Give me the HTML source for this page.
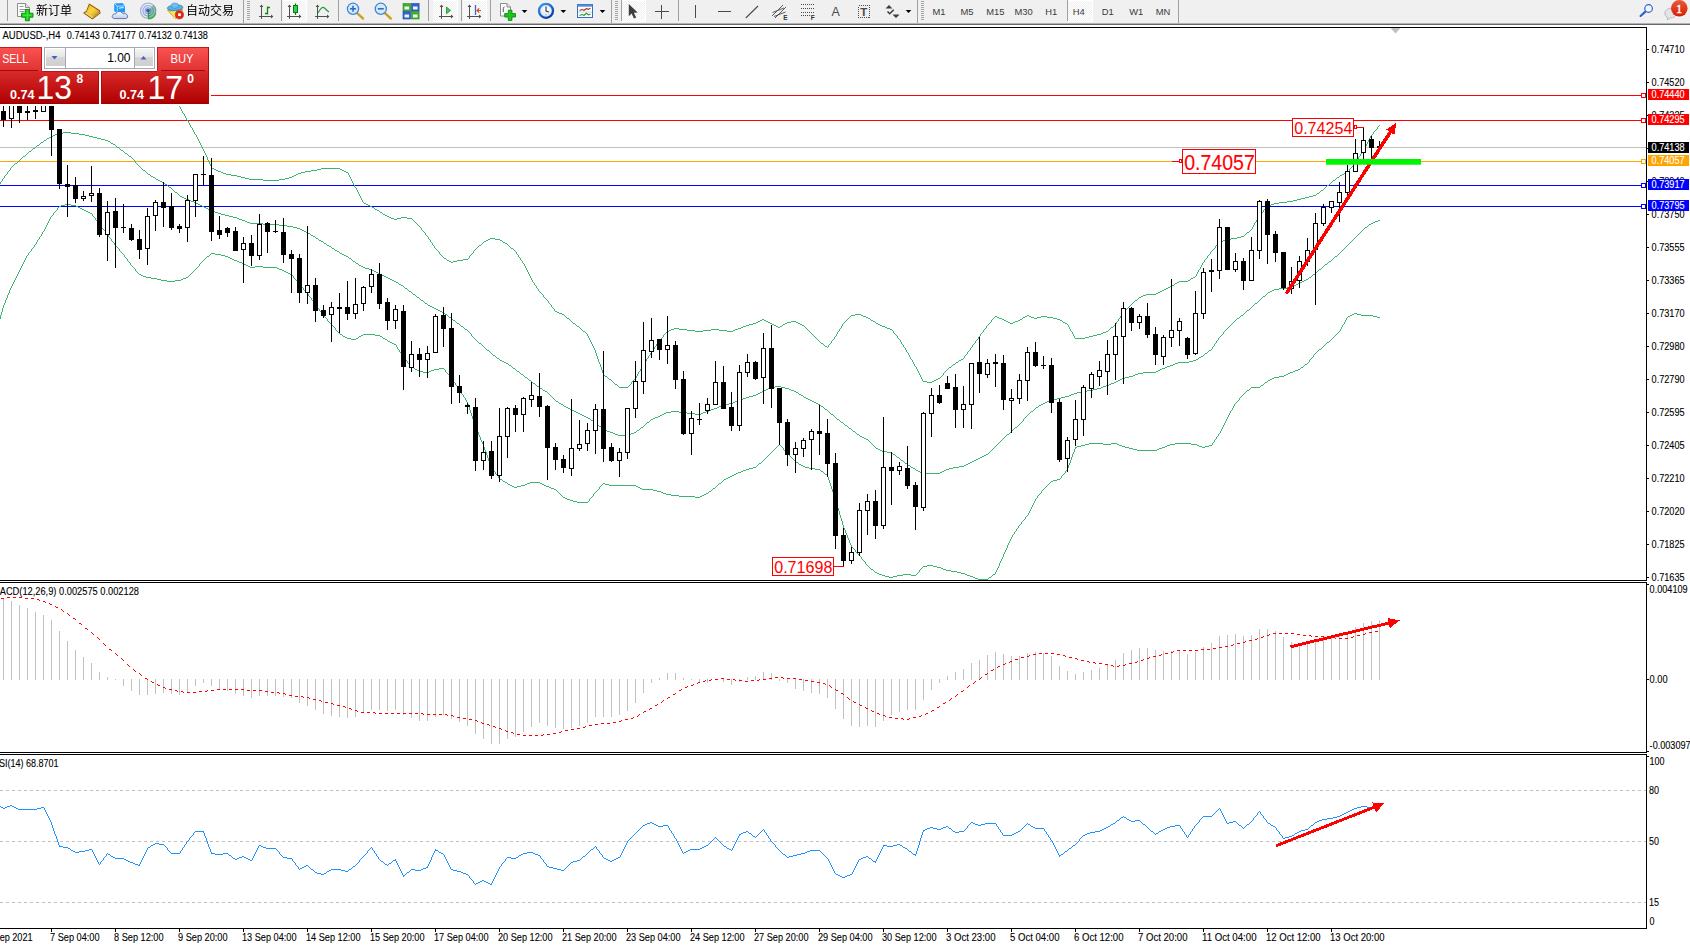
<!DOCTYPE html>
<html><head><meta charset="utf-8"><title>AUDUSD H4</title><style>html,body{margin:0;padding:0;background:#fff;overflow:hidden}body{width:1690px;height:948px;position:relative;font-family:"Liberation Sans",sans-serif}svg text{font-family:"Liberation Sans",sans-serif}</style></head><body>
<svg width="1690" height="948" viewBox="0 0 1690 948" font-family='"Liberation Sans", sans-serif' style="position:absolute;left:0;top:0">
<defs><linearGradient id="gSell" x1="0" y1="0" x2="0" y2="1"><stop offset="0" stop-color="#fb5353"/><stop offset="1" stop-color="#e03232"/></linearGradient><linearGradient id="gPrice" x1="0" y1="0" x2="0" y2="1"><stop offset="0" stop-color="#d92a2a"/><stop offset="1" stop-color="#ae0000"/></linearGradient><linearGradient id="gSpin" x1="0" y1="0" x2="0" y2="1"><stop offset="0" stop-color="#f4f4f4"/><stop offset="0.45" stop-color="#e6e6e6"/><stop offset="0.5" stop-color="#d6d6d6"/><stop offset="1" stop-color="#cfcfcf"/></linearGradient><linearGradient id="gBadge" x1="0" y1="0" x2="0" y2="1"><stop offset="0" stop-color="#ea5a3a"/><stop offset="1" stop-color="#d81c00"/></linearGradient><radialGradient id="gClock" cx="0.5" cy="0.4" r="0.6"><stop offset="0" stop-color="#ffffff"/><stop offset="1" stop-color="#cfe0f5"/></radialGradient><linearGradient id="gBook" x1="0" y1="0" x2="1" y2="1"><stop offset="0" stop-color="#e8b414"/><stop offset="0.45" stop-color="#f7d640"/><stop offset="1" stop-color="#d69a10"/></linearGradient><linearGradient id="gCloud" x1="0" y1="0" x2="0" y2="1"><stop offset="0" stop-color="#ffffff"/><stop offset="1" stop-color="#bfcde6"/></linearGradient><linearGradient id="gFunnel" x1="0" y1="0" x2="1" y2="0"><stop offset="0" stop-color="#f5c91e"/><stop offset="0.55" stop-color="#fff27a"/><stop offset="1" stop-color="#e8b010"/></linearGradient><linearGradient id="gRing" x1="0" y1="0" x2="0.6" y2="1"><stop offset="0" stop-color="#3c9af2"/><stop offset="1" stop-color="#0a3fa0"/></linearGradient><pattern id="chk" width="2" height="2" patternUnits="userSpaceOnUse"><rect width="2" height="2" fill="#f0f0f0"/><rect width="1" height="1" fill="#fff"/><rect x="1" y="1" width="1" height="1" fill="#fff"/></pattern></defs>
<rect x="0" y="0" width="1690" height="948" fill="#fff"/>
<g shape-rendering="crispEdges">
<rect x="0" y="95" width="1646" height="1" fill="#ff0000"/>
<rect x="0" y="120" width="1646" height="1" fill="#ff0000"/>
<rect x="0" y="147" width="1646" height="1" fill="#c0c0c0"/>
<rect x="0" y="161" width="1646" height="1" fill="#ffa500"/>
<rect x="0" y="185" width="1646" height="1" fill="#0000ff"/>
<rect x="0" y="206" width="1646" height="1" fill="#0000ff"/>
</g>
<path d="M171 92h1v1h-1zM172 93h1v2h-1zM173 95h1v2h-1zM174 97h1v2h-1zM175 99h1v1h-1zM176 100h1v2h-1zM177 102h1v2h-1zM178 104h1v2h-1zM179 106h1v1h-1zM180 107h1v2h-1zM181 109h1v2h-1zM182 111h1v2h-1zM183 113h1v1h-1zM184 114h1v2h-1zM185 116h1v2h-1zM186 118h1v2h-1zM187 120h1v1h-1zM188 121h1v2h-1zM189 123h1v2h-1zM190 125h1v2h-1zM191 127h1v1h-1zM192 128h1v2h-1zM193 130h1v2h-1zM194 132h1v2h-1zM195 134h1v1h-1zM196 135h1v2h-1zM197 137h1v2h-1zM198 139h1v2h-1zM199 141h1v2h-1zM200 143h1v2h-1zM201 145h1v2h-1zM202 147h1v2h-1zM203 149h1v2h-1zM204 151h1v2h-1zM205 153h1v2h-1zM206 155h1v2h-1zM207 157h1v3h-1zM208 160h1v2h-1zM209 162h1v2h-1zM210 164h1v2h-1zM211 166h1v2h-1zM212 168h2v1h-2zM214 169h2v1h-2zM216 170h2v1h-2zM218 171h3v1h-3zM221 172h2v1h-2zM223 173h3v1h-3zM226 174h5v1h-5zM231 175h6v1h-6zM237 176h4v1h-4zM241 177h4v1h-4zM245 178h4v1h-4zM249 179h14v1h-14zM263 180h16v1h-16zM279 179h6v1h-6zM285 178h4v1h-4zM289 177h3v1h-3zM292 176h2v1h-2zM294 175h2v1h-2zM296 174h2v1h-2zM298 173h3v1h-3zM301 172h4v1h-4zM305 171h6v1h-6zM311 170h6v1h-6zM317 169h4v1h-4zM321 168h19v1h-19zM340 169h2v1h-2zM342 170h2v1h-2zM344 171h2v1h-2zM346 172h2v1h-2zM348 173h1v2h-1zM349 175h1v2h-1zM350 177h1v2h-1zM351 179h1v2h-1zM352 181h1v2h-1zM353 183h1v2h-1zM354 185h1v2h-1zM355 187h1v1h-1zM356 188h1v2h-1zM357 190h1v2h-1zM358 192h1v2h-1zM359 194h1v2h-1zM360 196h1v2h-1zM361 198h1v2h-1zM362 200h1v2h-1zM363 202h1v1h-1zM364 203h2v1h-2zM366 204h2v1h-2zM368 205h2v1h-2zM370 206h2v1h-2zM372 207h2v1h-2zM374 208h1v1h-1zM375 209h2v1h-2zM377 210h2v1h-2zM379 211h1v1h-1zM380 212h2v1h-2zM382 213h1v1h-1zM383 214h2v1h-2zM385 215h2v1h-2zM387 216h2v1h-2zM389 217h2v1h-2zM391 218h3v1h-3zM394 219h3v1h-3zM397 218h4v1h-4zM401 217h6v1h-6zM407 218h5v1h-5zM412 219h1v1h-1zM413 220h1v1h-1zM414 221h1v1h-1zM415 222h1v1h-1zM416 223h1v1h-1zM417 224h1v1h-1zM418 225h1v1h-1zM419 226h1v1h-1zM420 227h1v1h-1zM421 228h1v2h-1zM422 230h1v1h-1zM423 231h1v1h-1zM424 232h1v1h-1zM425 233h1v2h-1zM426 235h1v1h-1zM427 236h1v1h-1zM428 237h1v2h-1zM429 239h1v1h-1zM430 240h1v2h-1zM431 242h1v1h-1zM432 243h1v2h-1zM433 245h1v1h-1zM434 246h1v2h-1zM435 248h1v1h-1zM436 249h1v1h-1zM437 250h1v1h-1zM438 251h1v1h-1zM439 252h1v2h-1zM440 254h1v1h-1zM441 255h1v1h-1zM442 256h1v1h-1zM443 257h1v1h-1zM444 258h2v1h-2zM446 259h1v1h-1zM447 260h2v1h-2zM449 261h2v1h-2zM451 262h2v1h-2zM453 261h4v1h-4zM457 260h6v1h-6zM463 259h5v1h-5zM468 258h1v1h-1zM469 256h1v2h-1zM470 255h1v1h-1zM471 254h1v1h-1zM472 253h1v1h-1zM473 251h1v2h-1zM474 250h1v1h-1zM475 249h1v1h-1zM476 248h1v1h-1zM477 247h1v1h-1zM478 246h1v1h-1zM479 245h2v1h-2zM481 244h1v1h-1zM482 243h1v1h-1zM483 242h1v1h-1zM484 241h2v1h-2zM486 240h2v1h-2zM488 239h2v1h-2zM490 238h5v1h-5zM495 239h5v1h-5zM500 240h2v1h-2zM502 241h1v1h-1zM503 242h2v1h-2zM505 243h2v1h-2zM507 244h1v1h-1zM508 245h1v1h-1zM509 246h1v1h-1zM510 247h1v1h-1zM511 248h2v1h-2zM513 249h1v1h-1zM514 250h1v1h-1zM515 251h1v1h-1zM516 252h1v2h-1zM517 254h1v1h-1zM518 255h1v2h-1zM519 257h1v1h-1zM520 258h1v2h-1zM521 260h1v1h-1zM522 261h1v2h-1zM523 263h1v1h-1zM524 264h1v2h-1zM525 266h1v2h-1zM526 268h1v2h-1zM527 270h1v2h-1zM528 272h1v2h-1zM529 274h1v2h-1zM530 276h1v2h-1zM531 278h1v2h-1zM532 280h1v2h-1zM533 282h1v1h-1zM534 283h1v2h-1zM535 285h1v1h-1zM536 286h1v2h-1zM537 288h1v1h-1zM538 289h1v2h-1zM539 291h1v1h-1zM540 292h1v1h-1zM541 293h1v1h-1zM542 294h1v1h-1zM543 295h1v2h-1zM544 297h1v1h-1zM545 298h1v1h-1zM546 299h1v1h-1zM547 300h1v1h-1zM548 301h1v2h-1zM549 303h1v1h-1zM550 304h1v1h-1zM551 305h1v2h-1zM552 307h1v1h-1zM553 308h1v1h-1zM554 309h1v2h-1zM555 311h2v1h-2zM557 312h2v1h-2zM559 313h3v1h-3zM562 314h2v1h-2zM564 315h1v1h-1zM565 316h1v1h-1zM566 317h1v1h-1zM567 318h2v1h-2zM569 319h1v1h-1zM570 320h1v1h-1zM571 321h1v1h-1zM572 322h1v1h-1zM573 323h2v1h-2zM575 324h1v1h-1zM576 325h1v1h-1zM577 326h2v1h-2zM579 327h1v1h-1zM580 328h1v1h-1zM581 329h1v1h-1zM582 330h1v1h-1zM583 331h2v1h-2zM585 332h1v1h-1zM586 333h1v1h-1zM587 334h1v2h-1zM588 336h1v2h-1zM589 338h1v2h-1zM590 340h1v2h-1zM591 342h1v2h-1zM592 344h1v2h-1zM593 346h1v2h-1zM594 348h1v2h-1zM595 350h1v3h-1zM596 353h1v3h-1zM597 356h1v3h-1zM598 359h1v3h-1zM599 362h1v2h-1zM600 364h1v3h-1zM601 367h1v3h-1zM602 370h1v3h-1zM603 373h1v2h-1zM604 375h1v1h-1zM605 376h2v1h-2zM607 377h1v1h-1zM608 378h1v1h-1zM609 379h2v1h-2zM611 380h1v1h-1zM612 381h1v1h-1zM613 382h1v1h-1zM614 383h1v1h-1zM615 384h2v1h-2zM617 385h1v1h-1zM618 386h1v1h-1zM619 387h9v1h-9zM628 386h1v1h-1zM629 385h1v1h-1zM630 384h1v1h-1zM631 382h1v2h-1zM632 381h1v1h-1zM633 380h1v1h-1zM634 379h1v1h-1zM635 378h1v1h-1zM636 376h1v2h-1zM637 374h1v2h-1zM638 372h1v2h-1zM639 371h1v1h-1zM640 369h1v2h-1zM641 367h1v2h-1zM642 365h1v2h-1zM643 364h1v1h-1zM644 362h1v2h-1zM645 361h1v1h-1zM646 359h1v2h-1zM647 358h1v1h-1zM648 356h1v2h-1zM649 355h1v1h-1zM650 353h1v2h-1zM651 352h1v1h-1zM652 350h1v2h-1zM653 349h1v1h-1zM654 347h1v2h-1zM655 346h1v1h-1zM656 344h1v2h-1zM657 343h1v1h-1zM658 341h1v2h-1zM659 340h1v1h-1zM660 339h1v1h-1zM661 338h1v1h-1zM662 337h1v1h-1zM663 335h1v2h-1zM664 334h1v1h-1zM665 333h1v1h-1zM666 332h1v1h-1zM667 331h2v1h-2zM669 330h2v1h-2zM671 329h3v1h-3zM674 328h5v1h-5zM679 329h8v1h-8zM687 330h8v1h-8zM695 331h8v1h-8zM703 330h8v1h-8zM711 329h8v1h-8zM719 330h8v1h-8zM727 331h6v1h-6zM733 330h2v1h-2zM735 329h3v1h-3zM738 328h3v1h-3zM741 327h2v1h-2zM743 326h3v1h-3zM746 325h3v1h-3zM749 324h4v1h-4zM753 323h3v1h-3zM756 322h2v1h-2zM758 321h2v1h-2zM760 320h2v1h-2zM762 319h2v1h-2zM764 320h2v1h-2zM766 321h2v1h-2zM768 322h2v1h-2zM770 323h2v1h-2zM772 324h2v1h-2zM774 325h2v1h-2zM776 326h2v1h-2zM778 327h2v1h-2zM780 326h2v1h-2zM782 325h1v1h-1zM783 324h2v1h-2zM785 323h2v1h-2zM787 322h4v1h-4zM791 321h5v1h-5zM796 322h2v1h-2zM798 323h2v1h-2zM800 324h2v1h-2zM802 325h2v1h-2zM804 326h1v1h-1zM805 327h1v1h-1zM806 328h1v1h-1zM807 329h1v1h-1zM808 330h1v1h-1zM809 331h1v1h-1zM810 332h1v1h-1zM811 333h1v1h-1zM812 334h1v1h-1zM813 335h1v1h-1zM814 336h1v1h-1zM815 337h1v1h-1zM816 338h1v1h-1zM817 339h1v1h-1zM818 340h1v1h-1zM819 341h1v1h-1zM820 342h1v1h-1zM821 343h2v1h-2zM823 344h1v1h-1zM824 345h1v1h-1zM825 346h2v1h-2zM827 347h1v1h-1zM828 345h1v2h-1zM829 344h1v1h-1zM830 343h1v1h-1zM831 341h1v2h-1zM832 340h1v1h-1zM833 339h1v1h-1zM834 337h1v2h-1zM835 336h1v1h-1zM836 334h1v2h-1zM837 332h1v2h-1zM838 331h1v1h-1zM839 329h1v2h-1zM840 328h1v1h-1zM841 326h1v2h-1zM842 324h1v2h-1zM843 323h1v1h-1zM844 322h1v1h-1zM845 321h1v1h-1zM846 320h1v1h-1zM847 319h1v1h-1zM848 318h1v1h-1zM849 317h1v1h-1zM850 316h1v1h-1zM851 315h4v1h-4zM855 314h6v1h-6zM861 315h2v1h-2zM863 316h3v1h-3zM866 317h2v1h-2zM868 318h2v1h-2zM870 319h1v1h-1zM871 320h2v1h-2zM873 321h2v1h-2zM875 322h1v1h-1zM876 323h2v1h-2zM878 324h2v1h-2zM880 325h2v1h-2zM882 326h3v1h-3zM885 327h2v1h-2zM887 328h3v1h-3zM890 329h2v1h-2zM892 330h1v1h-1zM893 331h1v2h-1zM894 333h1v1h-1zM895 334h1v1h-1zM896 335h1v1h-1zM897 336h1v2h-1zM898 338h1v1h-1zM899 339h1v1h-1zM900 340h1v2h-1zM901 342h1v2h-1zM902 344h1v1h-1zM903 345h1v2h-1zM904 347h1v1h-1zM905 348h1v2h-1zM906 350h1v2h-1zM907 352h1v1h-1zM908 353h1v2h-1zM909 355h1v2h-1zM910 357h1v2h-1zM911 359h1v1h-1zM912 360h1v2h-1zM913 362h1v2h-1zM914 364h1v2h-1zM915 366h1v1h-1zM916 367h1v2h-1zM917 369h1v2h-1zM918 371h1v2h-1zM919 373h1v2h-1zM920 375h1v2h-1zM921 377h1v2h-1zM922 379h1v2h-1zM923 381h4v1h-4zM927 382h5v1h-5zM932 381h2v1h-2zM934 380h2v1h-2zM936 379h2v1h-2zM938 378h2v1h-2zM940 377h1v1h-1zM941 376h1v1h-1zM942 375h1v1h-1zM943 373h1v2h-1zM944 372h1v1h-1zM945 371h1v1h-1zM946 370h1v1h-1zM947 369h1v1h-1zM948 368h1v1h-1zM949 367h2v1h-2zM951 366h1v1h-1zM952 365h1v1h-1zM953 364h2v1h-2zM955 363h1v1h-1zM956 362h2v1h-2zM958 361h1v1h-1zM959 360h2v1h-2zM961 359h2v1h-2zM963 358h1v1h-1zM964 356h1v2h-1zM965 355h1v1h-1zM966 354h1v1h-1zM967 352h1v2h-1zM968 351h1v1h-1zM969 350h1v1h-1zM970 348h1v2h-1zM971 347h1v1h-1zM972 345h1v2h-1zM973 344h1v1h-1zM974 343h1v1h-1zM975 341h1v2h-1zM976 340h1v1h-1zM977 339h1v1h-1zM978 337h1v2h-1zM979 336h1v1h-1zM980 334h1v2h-1zM981 333h1v1h-1zM982 332h1v1h-1zM983 330h1v2h-1zM984 329h1v1h-1zM985 328h1v1h-1zM986 326h1v2h-1zM987 325h1v1h-1zM988 324h1v1h-1zM989 323h1v1h-1zM990 322h1v1h-1zM991 320h1v2h-1zM992 319h1v1h-1zM993 318h1v1h-1zM994 317h1v1h-1zM995 316h2v1h-2zM997 317h2v1h-2zM999 318h3v1h-3zM1002 319h2v1h-2zM1004 320h2v1h-2zM1006 321h2v1h-2zM1008 322h2v1h-2zM1010 323h3v1h-3zM1013 322h2v1h-2zM1015 321h3v1h-3zM1018 320h2v1h-2zM1020 319h2v1h-2zM1022 318h1v1h-1zM1023 317h2v1h-2zM1025 316h2v1h-2zM1027 315h2v1h-2zM1029 316h2v1h-2zM1031 317h3v1h-3zM1034 318h3v1h-3zM1037 317h4v1h-4zM1041 316h6v1h-6zM1047 317h6v1h-6zM1053 318h4v1h-4zM1057 319h3v1h-3zM1060 320h2v1h-2zM1062 321h1v1h-1zM1063 322h2v1h-2zM1065 323h2v1h-2zM1067 324h1v1h-1zM1068 325h1v2h-1zM1069 327h1v2h-1zM1070 329h1v2h-1zM1071 331h1v1h-1zM1072 332h1v2h-1zM1073 334h1v2h-1zM1074 336h1v2h-1zM1075 338h10v1h-10zM1085 337h4v1h-4zM1089 336h4v1h-4zM1093 335h4v1h-4zM1097 334h4v1h-4zM1101 333h2v1h-2zM1103 332h3v1h-3zM1106 331h2v1h-2zM1108 330h1v1h-1zM1109 329h1v1h-1zM1110 328h1v1h-1zM1111 327h2v1h-2zM1113 326h1v1h-1zM1114 325h1v1h-1zM1115 324h1v1h-1zM1116 322h1v2h-1zM1117 321h1v1h-1zM1118 319h1v2h-1zM1119 318h1v1h-1zM1120 316h1v2h-1zM1121 315h1v1h-1zM1122 313h1v2h-1zM1123 312h1v1h-1zM1124 311h1v1h-1zM1125 310h1v1h-1zM1126 309h1v1h-1zM1127 308h1v1h-1zM1128 307h1v1h-1zM1129 306h1v1h-1zM1130 305h1v1h-1zM1131 304h1v1h-1zM1132 303h1v1h-1zM1133 302h1v1h-1zM1134 301h1v1h-1zM1135 300h2v1h-2zM1137 299h1v1h-1zM1138 298h1v1h-1zM1139 297h2v1h-2zM1141 296h2v1h-2zM1143 295h3v1h-3zM1146 294h10v1h-10zM1156 293h2v1h-2zM1158 292h2v1h-2zM1160 291h2v1h-2zM1162 290h2v1h-2zM1164 289h2v1h-2zM1166 288h2v1h-2zM1168 287h2v1h-2zM1170 286h2v1h-2zM1172 285h2v1h-2zM1174 284h1v1h-1zM1175 283h2v1h-2zM1177 282h2v1h-2zM1179 281h9v1h-9zM1188 280h2v1h-2zM1190 279h1v1h-1zM1191 278h2v1h-2zM1193 277h2v1h-2zM1195 276h1v1h-1zM1196 274h1v2h-1zM1197 272h1v2h-1zM1198 270h1v2h-1zM1199 269h1v1h-1zM1200 267h1v2h-1zM1201 265h1v2h-1zM1202 263h1v2h-1zM1203 262h1v1h-1zM1204 260h1v2h-1zM1205 259h1v1h-1zM1206 258h1v1h-1zM1207 256h1v2h-1zM1208 255h1v1h-1zM1209 254h1v1h-1zM1210 252h1v2h-1zM1211 251h1v1h-1zM1212 250h1v1h-1zM1213 249h1v1h-1zM1214 248h1v1h-1zM1215 246h1v2h-1zM1216 245h1v1h-1zM1217 244h1v1h-1zM1218 243h1v1h-1zM1219 242h2v1h-2zM1221 241h2v1h-2zM1223 240h3v1h-3zM1226 239h5v1h-5zM1231 238h6v1h-6zM1237 237h4v1h-4zM1241 236h3v1h-3zM1244 235h1v1h-1zM1245 234h1v1h-1zM1246 233h1v1h-1zM1247 232h2v1h-2zM1249 231h1v1h-1zM1250 230h1v1h-1zM1251 229h1v1h-1zM1252 227h1v2h-1zM1253 225h1v2h-1zM1254 223h1v2h-1zM1255 222h1v1h-1zM1256 220h1v2h-1zM1257 218h1v2h-1zM1258 216h1v2h-1zM1259 215h1v1h-1zM1260 214h1v1h-1zM1261 213h1v1h-1zM1262 212h1v1h-1zM1263 210h1v2h-1zM1264 209h1v1h-1zM1265 208h1v1h-1zM1266 207h1v1h-1zM1267 206h2v1h-2zM1269 205h2v1h-2zM1271 204h3v1h-3zM1274 203h5v1h-5zM1279 202h8v1h-8zM1287 201h6v1h-6zM1293 200h4v1h-4zM1297 199h4v1h-4zM1301 198h4v1h-4zM1305 197h4v1h-4zM1309 196h4v1h-4zM1313 195h3v1h-3zM1316 194h1v1h-1zM1317 193h2v1h-2zM1319 192h1v1h-1zM1320 191h1v1h-1zM1321 190h2v1h-2zM1323 189h1v1h-1zM1324 188h1v1h-1zM1325 187h1v1h-1zM1326 186h1v1h-1zM1327 185h2v1h-2zM1329 184h1v1h-1zM1330 183h1v1h-1zM1331 182h1v1h-1zM1332 181h1v1h-1zM1333 180h2v1h-2zM1335 179h1v1h-1zM1336 178h1v1h-1zM1337 177h2v1h-2zM1339 176h1v1h-1zM1340 175h2v1h-2zM1342 174h2v1h-2zM1344 173h2v1h-2zM1346 172h2v1h-2zM1348 171h1v1h-1zM1349 169h1v2h-1zM1350 168h1v1h-1zM1351 167h1v1h-1zM1352 166h1v1h-1zM1353 164h1v2h-1zM1354 163h1v1h-1zM1355 162h1v1h-1zM1356 160h1v2h-1zM1357 159h1v1h-1zM1358 157h1v2h-1zM1359 156h1v1h-1zM1360 154h1v2h-1zM1361 153h1v1h-1zM1362 151h1v2h-1zM1363 150h1v1h-1zM1364 148h1v2h-1zM1365 146h1v2h-1zM1366 144h1v2h-1zM1367 142h1v2h-1zM1368 140h1v2h-1zM1369 138h1v2h-1zM1370 136h1v2h-1zM1371 135h1v1h-1zM1372 134h1v1h-1zM1373 132h1v2h-1zM1374 131h1v1h-1zM1375 130h1v1h-1zM1376 129h1v1h-1zM1377 127h1v2h-1zM1378 126h1v1h-1zM1379 125h1v1h-1z" fill="#3cb371" shape-rendering="crispEdges"/>
<path d="M0 182h1v2h-1zM1 181h1v1h-1zM2 179h1v2h-1zM3 178h1v1h-1zM4 176h1v2h-1zM5 175h1v1h-1zM6 174h1v1h-1zM7 172h1v2h-1zM8 171h1v1h-1zM9 170h1v1h-1zM10 168h1v2h-1zM11 167h1v1h-1zM12 166h1v1h-1zM13 165h1v1h-1zM14 164h1v1h-1zM15 163h2v1h-2zM17 162h1v1h-1zM18 161h1v1h-1zM19 160h1v1h-1zM20 159h1v1h-1zM21 158h1v1h-1zM22 157h1v1h-1zM23 156h2v1h-2zM25 155h1v1h-1zM26 154h1v1h-1zM27 153h1v1h-1zM28 152h1v1h-1zM29 151h2v1h-2zM31 150h1v1h-1zM32 149h1v1h-1zM33 148h2v1h-2zM35 147h1v1h-1zM36 146h1v1h-1zM37 145h2v1h-2zM39 144h1v1h-1zM40 143h1v1h-1zM41 142h2v1h-2zM43 141h1v1h-1zM44 140h2v1h-2zM46 139h1v1h-1zM47 138h2v1h-2zM49 137h2v1h-2zM51 136h2v1h-2zM53 135h2v1h-2zM55 134h3v1h-3zM58 133h5v1h-5zM63 132h8v1h-8zM71 133h8v1h-8zM79 134h6v1h-6zM85 135h4v1h-4zM89 136h4v1h-4zM93 137h4v1h-4zM97 138h4v1h-4zM101 139h4v1h-4zM105 140h3v1h-3zM108 141h2v1h-2zM110 142h1v1h-1zM111 143h2v1h-2zM113 144h2v1h-2zM115 145h1v1h-1zM116 146h1v1h-1zM117 147h2v1h-2zM119 148h1v1h-1zM120 149h1v1h-1zM121 150h2v1h-2zM123 151h1v1h-1zM124 152h1v1h-1zM125 153h2v1h-2zM127 154h1v1h-1zM128 155h1v1h-1zM129 156h2v1h-2zM131 157h1v1h-1zM132 158h1v1h-1zM133 159h1v1h-1zM134 160h1v1h-1zM135 161h1v2h-1zM136 163h1v1h-1zM137 164h1v1h-1zM138 165h1v1h-1zM139 166h1v1h-1zM140 167h1v1h-1zM141 168h1v1h-1zM142 169h1v1h-1zM143 170h2v1h-2zM145 171h1v1h-1zM146 172h1v1h-1zM147 173h1v1h-1zM148 174h2v1h-2zM150 175h1v1h-1zM151 176h2v1h-2zM153 177h2v1h-2zM155 178h1v1h-1zM156 179h2v1h-2zM158 180h2v1h-2zM160 181h2v1h-2zM162 182h2v1h-2zM164 183h1v1h-1zM165 184h2v1h-2zM167 185h1v1h-1zM168 186h1v1h-1zM169 187h2v1h-2zM171 188h1v1h-1zM172 189h1v1h-1zM173 190h1v1h-1zM174 191h1v1h-1zM175 192h2v1h-2zM177 193h1v1h-1zM178 194h1v1h-1zM179 195h1v1h-1zM180 196h2v1h-2zM182 197h2v1h-2zM184 198h2v1h-2zM186 199h3v1h-3zM189 200h2v1h-2zM191 201h3v1h-3zM194 202h2v1h-2zM196 203h2v1h-2zM198 204h2v1h-2zM200 205h2v1h-2zM202 206h2v1h-2zM204 207h2v1h-2zM206 208h2v1h-2zM208 209h2v1h-2zM210 210h3v1h-3zM213 211h2v1h-2zM215 212h3v1h-3zM218 213h3v1h-3zM221 214h4v1h-4zM225 215h4v1h-4zM229 216h4v1h-4zM233 217h4v1h-4zM237 218h2v1h-2zM239 219h3v1h-3zM242 220h3v1h-3zM245 221h2v1h-2zM247 222h3v1h-3zM250 223h13v1h-13zM263 224h16v1h-16zM279 225h8v1h-8zM287 226h6v1h-6zM293 227h4v1h-4zM297 228h3v1h-3zM300 229h2v1h-2zM302 230h2v1h-2zM304 231h2v1h-2zM306 232h2v1h-2zM308 233h2v1h-2zM310 234h1v1h-1zM311 235h2v1h-2zM313 236h2v1h-2zM315 237h1v1h-1zM316 238h2v1h-2zM318 239h1v1h-1zM319 240h2v1h-2zM321 241h2v1h-2zM323 242h1v1h-1zM324 243h2v1h-2zM326 244h1v1h-1zM327 245h2v1h-2zM329 246h2v1h-2zM331 247h1v1h-1zM332 248h2v1h-2zM334 249h1v1h-1zM335 250h2v1h-2zM337 251h2v1h-2zM339 252h1v1h-1zM340 253h2v1h-2zM342 254h2v1h-2zM344 255h2v1h-2zM346 256h2v1h-2zM348 257h1v1h-1zM349 258h2v1h-2zM351 259h1v1h-1zM352 260h1v1h-1zM353 261h2v1h-2zM355 262h1v1h-1zM356 263h2v1h-2zM358 264h1v1h-1zM359 265h2v1h-2zM361 266h2v1h-2zM363 267h2v1h-2zM365 268h4v1h-4zM369 269h3v1h-3zM372 270h2v1h-2zM374 271h2v1h-2zM376 272h2v1h-2zM378 273h2v1h-2zM380 274h2v1h-2zM382 275h2v1h-2zM384 276h2v1h-2zM386 277h2v1h-2zM388 278h2v1h-2zM390 279h2v1h-2zM392 280h2v1h-2zM394 281h2v1h-2zM396 282h2v1h-2zM398 283h1v1h-1zM399 284h2v1h-2zM401 285h2v1h-2zM403 286h1v1h-1zM404 287h1v1h-1zM405 288h2v1h-2zM407 289h1v1h-1zM408 290h1v1h-1zM409 291h2v1h-2zM411 292h1v1h-1zM412 293h1v1h-1zM413 294h2v1h-2zM415 295h1v1h-1zM416 296h1v1h-1zM417 297h2v1h-2zM419 298h1v1h-1zM420 299h1v1h-1zM421 300h2v1h-2zM423 301h1v1h-1zM424 302h1v1h-1zM425 303h2v1h-2zM427 304h1v1h-1zM428 305h2v1h-2zM430 306h2v1h-2zM432 307h2v1h-2zM434 308h2v1h-2zM436 309h2v1h-2zM438 310h2v1h-2zM440 311h2v1h-2zM442 312h2v1h-2zM444 313h1v1h-1zM445 314h2v1h-2zM447 315h1v1h-1zM448 316h1v1h-1zM449 317h2v1h-2zM451 318h1v1h-1zM452 319h1v1h-1zM453 320h2v1h-2zM455 321h1v1h-1zM456 322h1v1h-1zM457 323h2v1h-2zM459 324h1v1h-1zM460 325h1v1h-1zM461 326h2v1h-2zM463 327h1v1h-1zM464 328h1v1h-1zM465 329h2v1h-2zM467 330h1v1h-1zM468 331h1v1h-1zM469 332h1v1h-1zM470 333h1v1h-1zM471 334h1v2h-1zM472 336h1v1h-1zM473 337h1v1h-1zM474 338h1v1h-1zM475 339h1v1h-1zM476 340h1v1h-1zM477 341h1v1h-1zM478 342h1v1h-1zM479 343h2v1h-2zM481 344h1v1h-1zM482 345h1v1h-1zM483 346h1v1h-1zM484 347h1v1h-1zM485 348h1v1h-1zM486 349h1v1h-1zM487 350h2v1h-2zM489 351h1v1h-1zM490 352h1v1h-1zM491 353h1v1h-1zM492 354h1v1h-1zM493 355h2v1h-2zM495 356h1v1h-1zM496 357h1v1h-1zM497 358h2v1h-2zM499 359h1v1h-1zM500 360h2v1h-2zM502 361h2v1h-2zM504 362h2v1h-2zM506 363h2v1h-2zM508 364h1v1h-1zM509 365h2v1h-2zM511 366h1v1h-1zM512 367h1v1h-1zM513 368h2v1h-2zM515 369h1v1h-1zM516 370h1v1h-1zM517 371h2v1h-2zM519 372h1v1h-1zM520 373h1v1h-1zM521 374h2v1h-2zM523 375h1v1h-1zM524 376h1v1h-1zM525 377h2v1h-2zM527 378h1v1h-1zM528 379h1v1h-1zM529 380h2v1h-2zM531 381h1v1h-1zM532 382h1v1h-1zM533 383h2v1h-2zM535 384h1v1h-1zM536 385h1v1h-1zM537 386h2v1h-2zM539 387h1v1h-1zM540 388h2v1h-2zM542 389h1v1h-1zM543 390h2v1h-2zM545 391h2v1h-2zM547 392h1v1h-1zM548 393h1v1h-1zM549 394h1v1h-1zM550 395h1v1h-1zM551 396h1v1h-1zM552 397h1v1h-1zM553 398h1v1h-1zM554 399h1v1h-1zM555 400h1v1h-1zM556 401h2v1h-2zM558 402h1v1h-1zM559 403h2v1h-2zM561 404h2v1h-2zM563 405h1v1h-1zM564 406h2v1h-2zM566 407h2v1h-2zM568 408h2v1h-2zM570 409h2v1h-2zM572 410h2v1h-2zM574 411h2v1h-2zM576 412h2v1h-2zM578 413h2v1h-2zM580 414h2v1h-2zM582 415h2v1h-2zM584 416h2v1h-2zM586 417h2v1h-2zM588 418h2v1h-2zM590 419h1v1h-1zM591 420h2v1h-2zM593 421h2v1h-2zM595 422h1v1h-1zM596 423h1v1h-1zM597 424h1v1h-1zM598 425h1v1h-1zM599 426h2v1h-2zM601 427h1v1h-1zM602 428h1v1h-1zM603 429h2v1h-2zM605 430h2v1h-2zM607 431h3v1h-3zM610 432h3v1h-3zM613 433h2v1h-2zM615 434h3v1h-3zM618 435h11v1h-11zM629 434h2v1h-2zM631 433h3v1h-3zM634 432h2v1h-2zM636 431h1v1h-1zM637 430h2v1h-2zM639 429h1v1h-1zM640 428h1v1h-1zM641 427h2v1h-2zM643 426h1v1h-1zM644 425h1v1h-1zM645 424h1v1h-1zM646 423h1v1h-1zM647 422h2v1h-2zM649 421h1v1h-1zM650 420h1v1h-1zM651 419h2v1h-2zM653 418h2v1h-2zM655 417h3v1h-3zM658 416h2v1h-2zM660 415h2v1h-2zM662 414h2v1h-2zM664 413h2v1h-2zM666 412h5v1h-5zM671 411h8v1h-8zM679 412h8v1h-8zM687 413h8v1h-8zM695 414h6v1h-6zM701 413h2v1h-2zM703 412h3v1h-3zM706 411h3v1h-3zM709 410h2v1h-2zM711 409h3v1h-3zM714 408h3v1h-3zM717 407h2v1h-2zM719 406h3v1h-3zM722 405h3v1h-3zM725 404h4v1h-4zM729 403h4v1h-4zM733 402h2v1h-2zM735 401h3v1h-3zM738 400h3v1h-3zM741 399h2v1h-2zM743 398h3v1h-3zM746 397h3v1h-3zM749 396h4v1h-4zM753 395h3v1h-3zM756 394h2v1h-2zM758 393h2v1h-2zM760 392h2v1h-2zM762 391h2v1h-2zM764 390h2v1h-2zM766 389h2v1h-2zM768 388h2v1h-2zM770 387h5v1h-5zM775 386h6v1h-6zM781 387h4v1h-4zM785 388h4v1h-4zM789 389h2v1h-2zM791 390h3v1h-3zM794 391h2v1h-2zM796 392h2v1h-2zM798 393h1v1h-1zM799 394h2v1h-2zM801 395h2v1h-2zM803 396h1v1h-1zM804 397h2v1h-2zM806 398h2v1h-2zM808 399h2v1h-2zM810 400h2v1h-2zM812 401h2v1h-2zM814 402h2v1h-2zM816 403h2v1h-2zM818 404h2v1h-2zM820 405h1v1h-1zM821 406h2v1h-2zM823 407h1v1h-1zM824 408h1v1h-1zM825 409h2v1h-2zM827 410h1v1h-1zM828 411h1v1h-1zM829 412h1v1h-1zM830 413h1v1h-1zM831 414h2v1h-2zM833 415h1v1h-1zM834 416h1v1h-1zM835 417h1v1h-1zM836 418h1v1h-1zM837 419h2v1h-2zM839 420h1v1h-1zM840 421h1v1h-1zM841 422h2v1h-2zM843 423h1v1h-1zM844 424h1v1h-1zM845 425h2v1h-2zM847 426h1v1h-1zM848 427h1v1h-1zM849 428h2v1h-2zM851 429h1v1h-1zM852 430h1v1h-1zM853 431h2v1h-2zM855 432h1v1h-1zM856 433h1v1h-1zM857 434h2v1h-2zM859 435h1v1h-1zM860 436h2v1h-2zM862 437h2v1h-2zM864 438h2v1h-2zM866 439h2v1h-2zM868 440h1v1h-1zM869 441h1v1h-1zM870 442h1v1h-1zM871 443h1v1h-1zM872 444h1v1h-1zM873 445h1v1h-1zM874 446h1v1h-1zM875 447h1v1h-1zM876 448h2v1h-2zM878 449h2v1h-2zM880 450h2v1h-2zM882 451h5v1h-5zM887 452h5v1h-5zM892 453h1v1h-1zM893 454h2v1h-2zM895 455h1v1h-1zM896 456h1v1h-1zM897 457h2v1h-2zM899 458h1v1h-1zM900 459h1v1h-1zM901 460h2v1h-2zM903 461h1v1h-1zM904 462h1v1h-1zM905 463h2v1h-2zM907 464h1v1h-1zM908 465h2v1h-2zM910 466h1v1h-1zM911 467h2v1h-2zM913 468h2v1h-2zM915 469h1v1h-1zM916 470h2v1h-2zM918 471h2v1h-2zM920 472h2v1h-2zM922 473h18v1h-18zM940 472h2v1h-2zM942 471h2v1h-2zM944 470h2v1h-2zM946 469h3v1h-3zM949 468h4v1h-4zM953 467h6v1h-6zM959 466h5v1h-5zM964 465h2v1h-2zM966 464h2v1h-2zM968 463h2v1h-2zM970 462h2v1h-2zM972 461h2v1h-2zM974 460h2v1h-2zM976 459h2v1h-2zM978 458h2v1h-2zM980 457h2v1h-2zM982 456h2v1h-2zM984 455h2v1h-2zM986 454h2v1h-2zM988 453h1v1h-1zM989 452h1v1h-1zM990 451h1v1h-1zM991 450h1v1h-1zM992 449h1v1h-1zM993 448h1v1h-1zM994 447h1v1h-1zM995 446h1v1h-1zM996 445h1v1h-1zM997 444h1v1h-1zM998 443h1v1h-1zM999 442h1v1h-1zM1000 441h1v1h-1zM1001 440h1v1h-1zM1002 439h1v1h-1zM1003 438h1v1h-1zM1004 437h1v1h-1zM1005 436h1v1h-1zM1006 435h1v1h-1zM1007 434h2v1h-2zM1009 433h1v1h-1zM1010 432h1v1h-1zM1011 431h1v1h-1zM1012 430h1v1h-1zM1013 429h1v1h-1zM1014 428h1v1h-1zM1015 427h2v1h-2zM1017 426h1v1h-1zM1018 425h1v1h-1zM1019 424h1v1h-1zM1020 423h1v1h-1zM1021 422h1v1h-1zM1022 421h1v1h-1zM1023 419h1v2h-1zM1024 418h1v1h-1zM1025 417h1v1h-1zM1026 416h1v1h-1zM1027 415h1v1h-1zM1028 414h1v1h-1zM1029 413h1v1h-1zM1030 412h1v1h-1zM1031 411h2v1h-2zM1033 410h1v1h-1zM1034 409h1v1h-1zM1035 408h1v1h-1zM1036 407h2v1h-2zM1038 406h1v1h-1zM1039 405h2v1h-2zM1041 404h2v1h-2zM1043 403h2v1h-2zM1045 402h2v1h-2zM1047 401h3v1h-3zM1050 400h3v1h-3zM1053 399h4v1h-4zM1057 398h4v1h-4zM1061 397h4v1h-4zM1065 396h4v1h-4zM1069 395h2v1h-2zM1071 394h3v1h-3zM1074 393h3v1h-3zM1077 392h4v1h-4zM1081 391h6v1h-6zM1087 390h6v1h-6zM1093 389h4v1h-4zM1097 388h4v1h-4zM1101 387h2v1h-2zM1103 386h3v1h-3zM1106 385h3v1h-3zM1109 384h2v1h-2zM1111 383h3v1h-3zM1114 382h2v1h-2zM1116 381h2v1h-2zM1118 380h2v1h-2zM1120 379h2v1h-2zM1122 378h3v1h-3zM1125 377h4v1h-4zM1129 376h4v1h-4zM1133 375h2v1h-2zM1135 374h3v1h-3zM1138 373h5v1h-5zM1143 372h13v1h-13zM1156 371h2v1h-2zM1158 370h2v1h-2zM1160 369h2v1h-2zM1162 368h3v1h-3zM1165 367h2v1h-2zM1167 366h3v1h-3zM1170 365h3v1h-3zM1173 364h2v1h-2zM1175 363h3v1h-3zM1178 362h11v1h-11zM1189 361h4v1h-4zM1193 360h3v1h-3zM1196 359h2v1h-2zM1198 358h1v1h-1zM1199 357h2v1h-2zM1201 356h2v1h-2zM1203 355h1v1h-1zM1204 354h1v1h-1zM1205 353h2v1h-2zM1207 352h1v1h-1zM1208 351h1v1h-1zM1209 350h2v1h-2zM1211 349h1v1h-1zM1212 347h1v2h-1zM1213 346h1v1h-1zM1214 344h1v2h-1zM1215 343h1v1h-1zM1216 341h1v2h-1zM1217 340h1v1h-1zM1218 338h1v2h-1zM1219 337h1v1h-1zM1220 336h1v1h-1zM1221 335h1v1h-1zM1222 334h1v1h-1zM1223 332h1v2h-1zM1224 331h1v1h-1zM1225 330h1v1h-1zM1226 329h1v1h-1zM1227 328h1v1h-1zM1228 327h1v1h-1zM1229 326h1v1h-1zM1230 325h1v1h-1zM1231 324h1v1h-1zM1232 323h1v1h-1zM1233 322h1v1h-1zM1234 321h1v1h-1zM1235 320h1v1h-1zM1236 319h1v1h-1zM1237 318h2v1h-2zM1239 317h1v1h-1zM1240 316h1v1h-1zM1241 315h2v1h-2zM1243 314h1v1h-1zM1244 313h1v1h-1zM1245 312h1v1h-1zM1246 311h1v1h-1zM1247 310h2v1h-2zM1249 309h1v1h-1zM1250 308h1v1h-1zM1251 307h1v1h-1zM1252 306h1v1h-1zM1253 305h1v1h-1zM1254 304h1v1h-1zM1255 303h2v1h-2zM1257 302h1v1h-1zM1258 301h1v1h-1zM1259 300h1v1h-1zM1260 299h1v1h-1zM1261 298h1v1h-1zM1262 297h1v1h-1zM1263 296h2v1h-2zM1265 295h1v1h-1zM1266 294h1v1h-1zM1267 293h1v1h-1zM1268 292h2v1h-2zM1270 291h2v1h-2zM1272 290h2v1h-2zM1274 289h5v1h-5zM1279 288h8v1h-8zM1287 287h5v1h-5zM1292 286h2v1h-2zM1294 285h2v1h-2zM1296 284h2v1h-2zM1298 283h2v1h-2zM1300 282h2v1h-2zM1302 281h2v1h-2zM1304 280h2v1h-2zM1306 279h2v1h-2zM1308 278h1v1h-1zM1309 277h2v1h-2zM1311 276h1v1h-1zM1312 275h1v1h-1zM1313 274h2v1h-2zM1315 273h1v1h-1zM1316 272h1v1h-1zM1317 271h1v1h-1zM1318 270h1v1h-1zM1319 269h2v1h-2zM1321 268h1v1h-1zM1322 267h1v1h-1zM1323 266h1v1h-1zM1324 265h1v1h-1zM1325 264h2v1h-2zM1327 263h1v1h-1zM1328 262h1v1h-1zM1329 261h2v1h-2zM1331 260h1v1h-1zM1332 259h1v1h-1zM1333 258h1v1h-1zM1334 257h1v1h-1zM1335 256h2v1h-2zM1337 255h1v1h-1zM1338 254h1v1h-1zM1339 253h1v1h-1zM1340 252h1v1h-1zM1341 251h1v1h-1zM1342 250h1v1h-1zM1343 249h1v1h-1zM1344 248h1v1h-1zM1345 247h1v1h-1zM1346 246h1v1h-1zM1347 245h1v1h-1zM1348 244h1v1h-1zM1349 243h1v1h-1zM1350 242h1v1h-1zM1351 241h1v1h-1zM1352 240h1v1h-1zM1353 239h1v1h-1zM1354 238h1v1h-1zM1355 237h1v1h-1zM1356 236h1v1h-1zM1357 235h1v1h-1zM1358 234h1v1h-1zM1359 233h1v1h-1zM1360 232h1v1h-1zM1361 231h1v1h-1zM1362 230h1v1h-1zM1363 229h1v1h-1zM1364 228h1v1h-1zM1365 227h2v1h-2zM1367 226h1v1h-1zM1368 225h1v1h-1zM1369 224h2v1h-2zM1371 223h2v1h-2zM1373 222h2v1h-2zM1375 221h3v1h-3zM1378 220h2v1h-2z" fill="#3cb371" shape-rendering="crispEdges"/>
<path d="M0 315h1v4h-1zM1 312h1v3h-1zM2 308h1v4h-1zM3 305h1v3h-1zM4 303h1v2h-1zM5 300h1v3h-1zM6 298h1v2h-1zM7 295h1v3h-1zM8 293h1v2h-1zM9 290h1v3h-1zM10 288h1v2h-1zM11 286h1v2h-1zM12 284h1v2h-1zM13 282h1v2h-1zM14 280h1v2h-1zM15 278h1v2h-1zM16 276h1v2h-1zM17 274h1v2h-1zM18 272h1v2h-1zM19 270h1v2h-1zM20 268h1v2h-1zM21 266h1v2h-1zM22 264h1v2h-1zM23 262h1v2h-1zM24 260h1v2h-1zM25 258h1v2h-1zM26 256h1v2h-1zM27 255h1v1h-1zM28 253h1v2h-1zM29 252h1v1h-1zM30 251h1v1h-1zM31 249h1v2h-1zM32 248h1v1h-1zM33 247h1v1h-1zM34 245h1v2h-1zM35 244h1v1h-1zM36 242h1v2h-1zM37 240h1v2h-1zM38 239h1v1h-1zM39 237h1v2h-1zM40 236h1v1h-1zM41 234h1v2h-1zM42 232h1v2h-1zM43 231h1v1h-1zM44 229h1v2h-1zM45 227h1v2h-1zM46 225h1v2h-1zM47 223h1v2h-1zM48 221h1v2h-1zM49 219h1v2h-1zM50 217h1v2h-1zM51 216h1v1h-1zM52 215h1v1h-1zM53 213h1v2h-1zM54 212h1v1h-1zM55 211h1v1h-1zM56 210h1v1h-1zM57 208h1v2h-1zM58 207h1v1h-1zM59 206h2v1h-2zM61 205h4v1h-4zM65 204h6v1h-6zM71 205h5v1h-5zM76 206h2v1h-2zM78 207h2v1h-2zM80 208h2v1h-2zM82 209h2v1h-2zM84 210h2v1h-2zM86 211h2v1h-2zM88 212h2v1h-2zM90 213h2v1h-2zM92 214h1v2h-1zM93 216h1v1h-1zM94 217h1v1h-1zM95 218h1v2h-1zM96 220h1v1h-1zM97 221h1v1h-1zM98 222h1v2h-1zM99 224h1v1h-1zM100 225h1v1h-1zM101 226h1v2h-1zM102 228h1v1h-1zM103 229h1v1h-1zM104 230h1v1h-1zM105 231h1v2h-1zM106 233h1v1h-1zM107 234h1v1h-1zM108 235h1v2h-1zM109 237h1v1h-1zM110 238h1v1h-1zM111 239h1v2h-1zM112 241h1v1h-1zM113 242h1v1h-1zM114 243h1v2h-1zM115 245h1v1h-1zM116 246h1v1h-1zM117 247h1v1h-1zM118 248h1v1h-1zM119 249h1v2h-1zM120 251h1v1h-1zM121 252h1v1h-1zM122 253h1v1h-1zM123 254h1v1h-1zM124 255h1v2h-1zM125 257h1v1h-1zM126 258h1v1h-1zM127 259h1v2h-1zM128 261h1v1h-1zM129 262h1v1h-1zM130 263h1v2h-1zM131 265h1v1h-1zM132 266h1v1h-1zM133 267h1v1h-1zM134 268h1v1h-1zM135 269h1v2h-1zM136 271h1v1h-1zM137 272h1v1h-1zM138 273h1v1h-1zM139 274h2v1h-2zM141 275h2v1h-2zM143 276h3v1h-3zM146 277h5v1h-5zM151 278h6v1h-6zM157 279h4v1h-4zM161 280h6v1h-6zM167 281h8v1h-8zM175 280h6v1h-6zM181 279h2v1h-2zM183 278h3v1h-3zM186 277h2v1h-2zM188 276h1v1h-1zM189 275h1v1h-1zM190 274h1v1h-1zM191 273h1v1h-1zM192 272h1v1h-1zM193 271h1v1h-1zM194 270h1v1h-1zM195 269h1v1h-1zM196 268h1v1h-1zM197 267h1v1h-1zM198 266h1v1h-1zM199 264h1v2h-1zM200 263h1v1h-1zM201 262h1v1h-1zM202 261h1v1h-1zM203 260h1v1h-1zM204 259h1v1h-1zM205 258h1v1h-1zM206 257h1v1h-1zM207 256h2v1h-2zM209 255h1v1h-1zM210 254h1v1h-1zM211 253h4v1h-4zM215 254h6v1h-6zM221 255h4v1h-4zM225 256h3v1h-3zM228 257h2v1h-2zM230 258h2v1h-2zM232 259h2v1h-2zM234 260h3v1h-3zM237 261h2v1h-2zM239 262h3v1h-3zM242 263h2v1h-2zM244 264h2v1h-2zM246 265h2v1h-2zM248 266h2v1h-2zM250 267h5v1h-5zM255 266h8v1h-8zM263 267h14v1h-14zM277 268h2v1h-2zM279 269h3v1h-3zM282 270h2v1h-2zM284 271h2v1h-2zM286 272h2v1h-2zM288 273h2v1h-2zM290 274h2v1h-2zM292 275h1v1h-1zM293 276h1v2h-1zM294 278h1v1h-1zM295 279h1v1h-1zM296 280h1v1h-1zM297 281h1v2h-1zM298 283h1v1h-1zM299 284h1v1h-1zM300 285h1v1h-1zM301 286h1v1h-1zM302 287h1v1h-1zM303 288h1v2h-1zM304 290h1v1h-1zM305 291h1v1h-1zM306 292h1v1h-1zM307 293h1v1h-1zM308 294h1v2h-1zM309 296h1v1h-1zM310 297h1v1h-1zM311 298h1v2h-1zM312 300h1v1h-1zM313 301h1v1h-1zM314 302h1v2h-1zM315 304h1v1h-1zM316 305h1v2h-1zM317 307h1v1h-1zM318 308h1v1h-1zM319 309h1v2h-1zM320 311h1v1h-1zM321 312h1v1h-1zM322 313h1v2h-1zM323 315h1v1h-1zM324 316h1v1h-1zM325 317h1v1h-1zM326 318h1v1h-1zM327 319h1v2h-1zM328 321h1v1h-1zM329 322h1v1h-1zM330 323h1v1h-1zM331 324h1v1h-1zM332 325h1v1h-1zM333 326h1v1h-1zM334 327h1v1h-1zM335 328h1v2h-1zM336 330h1v1h-1zM337 331h1v1h-1zM338 332h1v1h-1zM339 333h1v1h-1zM340 334h2v1h-2zM342 335h1v1h-1zM343 336h2v1h-2zM345 337h2v1h-2zM347 338h4v1h-4zM351 339h5v1h-5zM356 338h2v1h-2zM358 337h1v1h-1zM359 336h2v1h-2zM361 335h2v1h-2zM363 334h12v1h-12zM375 335h5v1h-5zM380 336h2v1h-2zM382 337h1v1h-1zM383 338h2v1h-2zM385 339h2v1h-2zM387 340h1v1h-1zM388 341h2v1h-2zM390 342h2v1h-2zM392 343h2v1h-2zM394 344h2v1h-2zM396 345h1v2h-1zM397 347h1v2h-1zM398 349h1v1h-1zM399 350h1v2h-1zM400 352h1v1h-1zM401 353h1v2h-1zM402 355h1v2h-1zM403 357h1v1h-1zM404 358h1v1h-1zM405 359h1v1h-1zM406 360h1v1h-1zM407 361h1v2h-1zM408 363h1v1h-1zM409 364h1v1h-1zM410 365h1v1h-1zM411 366h1v1h-1zM412 367h2v1h-2zM414 368h1v1h-1zM415 369h2v1h-2zM417 370h2v1h-2zM419 371h4v1h-4zM423 372h6v1h-6zM429 371h2v1h-2zM431 370h3v1h-3zM434 369h5v1h-5zM439 368h5v1h-5zM444 369h1v1h-1zM445 370h1v2h-1zM446 372h1v1h-1zM447 373h1v1h-1zM448 374h1v1h-1zM449 375h1v2h-1zM450 377h1v1h-1zM451 378h1v1h-1zM452 379h1v2h-1zM453 381h1v1h-1zM454 382h1v1h-1zM455 383h1v2h-1zM456 385h1v1h-1zM457 386h1v1h-1zM458 387h1v2h-1zM459 389h1v1h-1zM460 390h1v2h-1zM461 392h1v2h-1zM462 394h1v1h-1zM463 395h1v2h-1zM464 397h1v1h-1zM465 398h1v2h-1zM466 400h1v2h-1zM467 402h1v2h-1zM468 404h1v3h-1zM469 407h1v3h-1zM470 410h1v3h-1zM471 413h1v3h-1zM472 416h1v3h-1zM473 419h1v3h-1zM474 422h1v3h-1zM475 425h1v3h-1zM476 428h1v2h-1zM477 430h1v2h-1zM478 432h1v3h-1zM479 435h1v2h-1zM480 437h1v3h-1zM481 440h1v2h-1zM482 442h1v2h-1zM483 444h1v3h-1zM484 447h1v3h-1zM485 450h1v2h-1zM486 452h1v3h-1zM487 455h1v3h-1zM488 458h1v3h-1zM489 461h1v2h-1zM490 463h1v3h-1zM491 466h1v2h-1zM492 468h1v2h-1zM493 470h1v1h-1zM494 471h1v1h-1zM495 472h1v2h-1zM496 474h1v1h-1zM497 475h1v1h-1zM498 476h1v2h-1zM499 478h1v1h-1zM500 479h2v1h-2zM502 480h1v1h-1zM503 481h2v1h-2zM505 482h2v1h-2zM507 483h1v1h-1zM508 484h2v1h-2zM510 485h2v1h-2zM512 486h2v1h-2zM514 487h3v1h-3zM517 486h4v1h-4zM521 485h4v1h-4zM525 484h2v1h-2zM527 483h3v1h-3zM530 482h10v1h-10zM540 483h2v1h-2zM542 484h2v1h-2zM544 485h2v1h-2zM546 486h3v1h-3zM549 487h2v1h-2zM551 488h3v1h-3zM554 489h2v1h-2zM556 490h1v1h-1zM557 491h1v1h-1zM558 492h1v1h-1zM559 493h1v1h-1zM560 494h1v1h-1zM561 495h1v1h-1zM562 496h1v1h-1zM563 497h2v1h-2zM565 498h2v1h-2zM567 499h3v1h-3zM570 500h3v1h-3zM573 501h4v1h-4zM577 502h11v1h-11zM588 501h1v1h-1zM589 499h1v2h-1zM590 498h1v1h-1zM591 497h1v1h-1zM592 496h1v1h-1zM593 494h1v2h-1zM594 493h1v1h-1zM595 492h1v1h-1zM596 491h1v1h-1zM597 490h1v1h-1zM598 489h1v1h-1zM599 487h1v2h-1zM600 486h1v1h-1zM601 485h1v1h-1zM602 484h1v1h-1zM603 483h2v1h-2zM605 484h4v1h-4zM609 485h27v1h-27zM636 486h2v1h-2zM638 487h2v1h-2zM640 488h2v1h-2zM642 489h11v1h-11zM653 490h4v1h-4zM657 491h4v1h-4zM661 492h2v1h-2zM663 493h3v1h-3zM666 494h5v1h-5zM671 495h8v1h-8zM679 496h16v1h-16zM695 497h5v1h-5zM700 496h2v1h-2zM702 495h2v1h-2zM704 494h2v1h-2zM706 493h2v1h-2zM708 492h1v1h-1zM709 491h2v1h-2zM711 490h1v1h-1zM712 489h1v1h-1zM713 488h2v1h-2zM715 487h1v1h-1zM716 486h1v1h-1zM717 485h1v1h-1zM718 484h1v1h-1zM719 483h2v1h-2zM721 482h1v1h-1zM722 481h1v1h-1zM723 480h1v1h-1zM724 479h2v1h-2zM726 478h2v1h-2zM728 477h2v1h-2zM730 476h2v1h-2zM732 475h2v1h-2zM734 474h2v1h-2zM736 473h2v1h-2zM738 472h3v1h-3zM741 471h2v1h-2zM743 470h3v1h-3zM746 469h3v1h-3zM749 468h4v1h-4zM753 467h3v1h-3zM756 466h1v1h-1zM757 465h1v1h-1zM758 464h1v1h-1zM759 463h2v1h-2zM761 462h1v1h-1zM762 461h1v1h-1zM763 460h1v1h-1zM764 459h1v1h-1zM765 458h1v1h-1zM766 457h1v1h-1zM767 456h1v1h-1zM768 455h1v1h-1zM769 454h1v1h-1zM770 453h1v1h-1zM771 452h1v1h-1zM772 451h1v1h-1zM773 450h1v1h-1zM774 449h1v1h-1zM775 448h1v1h-1zM776 447h1v1h-1zM777 446h1v1h-1zM778 445h1v1h-1zM779 444h1v1h-1zM780 445h1v1h-1zM781 446h1v1h-1zM782 447h1v1h-1zM783 448h1v2h-1zM784 450h1v1h-1zM785 451h1v1h-1zM786 452h1v1h-1zM787 453h1v1h-1zM788 454h1v1h-1zM789 455h1v1h-1zM790 456h1v1h-1zM791 457h1v1h-1zM792 458h1v1h-1zM793 459h1v1h-1zM794 460h1v1h-1zM795 461h1v1h-1zM796 462h2v1h-2zM798 463h1v1h-1zM799 464h2v1h-2zM801 465h2v1h-2zM803 466h2v1h-2zM805 467h4v1h-4zM809 468h6v1h-6zM815 469h5v1h-5zM820 470h1v1h-1zM821 471h2v1h-2zM823 472h1v1h-1zM824 473h1v1h-1zM825 474h2v1h-2zM827 475h1v2h-1zM828 477h1v3h-1zM829 480h1v3h-1zM830 483h1v3h-1zM831 486h1v3h-1zM832 489h1v3h-1zM833 492h1v3h-1zM834 495h1v3h-1zM835 498h1v3h-1zM836 501h1v4h-1zM837 505h1v3h-1zM838 508h1v3h-1zM839 511h1v4h-1zM840 515h1v3h-1zM841 518h1v3h-1zM842 521h1v4h-1zM843 525h1v3h-1zM844 528h1v2h-1zM845 530h1v3h-1zM846 533h1v2h-1zM847 535h1v3h-1zM848 538h1v2h-1zM849 540h1v3h-1zM850 543h1v2h-1zM851 545h1v2h-1zM852 547h1v1h-1zM853 548h1v1h-1zM854 549h1v1h-1zM855 550h1v2h-1zM856 552h1v1h-1zM857 553h1v1h-1zM858 554h1v1h-1zM859 555h1v1h-1zM860 556h1v1h-1zM861 557h1v2h-1zM862 559h1v1h-1zM863 560h1v1h-1zM864 561h1v1h-1zM865 562h1v2h-1zM866 564h1v1h-1zM867 565h1v1h-1zM868 566h1v1h-1zM869 567h1v1h-1zM870 568h1v1h-1zM871 569h2v1h-2zM873 570h1v1h-1zM874 571h1v1h-1zM875 572h2v1h-2zM877 573h2v1h-2zM879 574h3v1h-3zM882 575h3v1h-3zM885 576h4v1h-4zM889 577h4v1h-4zM893 576h4v1h-4zM897 575h6v1h-6zM903 574h8v1h-8zM911 575h5v1h-5zM916 574h1v1h-1zM917 573h1v1h-1zM918 572h1v1h-1zM919 570h1v2h-1zM920 569h1v1h-1zM921 568h1v1h-1zM922 567h1v1h-1zM923 566h4v1h-4zM927 565h6v1h-6zM933 566h4v1h-4zM937 567h4v1h-4zM941 568h2v1h-2zM943 569h3v1h-3zM946 570h5v1h-5zM951 571h6v1h-6zM957 572h4v1h-4zM961 573h4v1h-4zM965 574h2v1h-2zM967 575h3v1h-3zM970 576h3v1h-3zM973 577h2v1h-2zM975 578h3v1h-3zM978 579h10v1h-10zM988 578h1v1h-1zM989 577h2v1h-2zM991 576h1v1h-1zM992 575h1v1h-1zM993 574h2v1h-2zM995 572h1v2h-1zM996 570h1v2h-1zM997 568h1v2h-1zM998 566h1v2h-1zM999 563h1v3h-1zM1000 561h1v2h-1zM1001 559h1v2h-1zM1002 557h1v2h-1zM1003 554h1v3h-1zM1004 552h1v2h-1zM1005 550h1v2h-1zM1006 548h1v2h-1zM1007 545h1v3h-1zM1008 543h1v2h-1zM1009 541h1v2h-1zM1010 539h1v2h-1zM1011 537h1v2h-1zM1012 535h1v2h-1zM1013 534h1v1h-1zM1014 532h1v2h-1zM1015 531h1v1h-1zM1016 529h1v2h-1zM1017 528h1v1h-1zM1018 526h1v2h-1zM1019 525h1v1h-1zM1020 524h1v1h-1zM1021 522h1v2h-1zM1022 521h1v1h-1zM1023 520h1v1h-1zM1024 519h1v1h-1zM1025 517h1v2h-1zM1026 516h1v1h-1zM1027 515h1v1h-1zM1028 513h1v2h-1zM1029 511h1v2h-1zM1030 509h1v2h-1zM1031 507h1v2h-1zM1032 505h1v2h-1zM1033 503h1v2h-1zM1034 501h1v2h-1zM1035 499h1v2h-1zM1036 498h1v1h-1zM1037 496h1v2h-1zM1038 495h1v1h-1zM1039 494h1v1h-1zM1040 493h1v1h-1zM1041 491h1v2h-1zM1042 490h1v1h-1zM1043 489h1v1h-1zM1044 488h1v1h-1zM1045 487h1v1h-1zM1046 486h1v1h-1zM1047 485h1v1h-1zM1048 484h1v1h-1zM1049 483h1v1h-1zM1050 482h1v1h-1zM1051 481h2v1h-2zM1053 480h4v1h-4zM1057 479h3v1h-3zM1060 478h1v1h-1zM1061 476h1v2h-1zM1062 475h1v1h-1zM1063 474h1v1h-1zM1064 473h1v1h-1zM1065 471h1v2h-1zM1066 470h1v1h-1zM1067 468h1v2h-1zM1068 465h1v3h-1zM1069 463h1v2h-1zM1070 460h1v3h-1zM1071 457h1v3h-1zM1072 454h1v3h-1zM1073 452h1v2h-1zM1074 449h1v3h-1zM1075 448h1v1h-1zM1075 447h2v1h-2zM1077 446h4v1h-4zM1081 445h4v1h-4zM1085 444h4v1h-4zM1089 443h14v1h-14zM1103 444h8v1h-8zM1111 443h6v1h-6zM1117 444h2v1h-2zM1119 445h3v1h-3zM1122 446h3v1h-3zM1125 447h4v1h-4zM1129 448h4v1h-4zM1133 449h4v1h-4zM1137 450h20v1h-20zM1157 449h2v1h-2zM1159 448h3v1h-3zM1162 447h3v1h-3zM1165 446h2v1h-2zM1167 445h3v1h-3zM1170 444h5v1h-5zM1175 443h16v1h-16zM1191 444h6v1h-6zM1197 445h2v1h-2zM1199 446h3v1h-3zM1202 447h3v1h-3zM1205 446h4v1h-4zM1209 445h3v1h-3zM1212 443h1v2h-1zM1213 442h1v1h-1zM1214 440h1v2h-1zM1215 439h1v1h-1zM1216 437h1v2h-1zM1217 436h1v1h-1zM1218 434h1v2h-1zM1219 433h1v1h-1zM1220 431h1v2h-1zM1221 429h1v2h-1zM1222 427h1v2h-1zM1223 425h1v2h-1zM1224 423h1v2h-1zM1225 421h1v2h-1zM1226 419h1v2h-1zM1227 417h1v2h-1zM1228 415h1v2h-1zM1229 413h1v2h-1zM1230 411h1v2h-1zM1231 410h1v1h-1zM1232 408h1v2h-1zM1233 406h1v2h-1zM1234 404h1v2h-1zM1235 403h1v1h-1zM1236 402h1v1h-1zM1237 401h1v1h-1zM1238 400h1v1h-1zM1239 398h1v2h-1zM1240 397h1v1h-1zM1241 396h1v1h-1zM1242 395h1v1h-1zM1243 394h1v1h-1zM1244 393h1v1h-1zM1245 392h1v1h-1zM1246 391h1v1h-1zM1247 390h2v1h-2zM1249 389h1v1h-1zM1250 388h1v1h-1zM1251 387h9v1h-9zM1260 386h1v1h-1zM1261 385h2v1h-2zM1263 384h1v1h-1zM1264 383h1v1h-1zM1265 382h2v1h-2zM1267 381h1v1h-1zM1268 380h2v1h-2zM1270 379h2v1h-2zM1272 378h2v1h-2zM1274 377h5v1h-5zM1279 376h5v1h-5zM1284 375h2v1h-2zM1286 374h2v1h-2zM1288 373h2v1h-2zM1290 372h3v1h-3zM1293 371h2v1h-2zM1295 370h3v1h-3zM1298 369h2v1h-2zM1300 368h1v1h-1zM1301 367h2v1h-2zM1303 366h1v1h-1zM1304 365h1v1h-1zM1305 364h2v1h-2zM1307 363h1v1h-1zM1308 362h1v1h-1zM1309 360h1v2h-1zM1310 359h1v1h-1zM1311 358h1v1h-1zM1312 357h1v1h-1zM1313 355h1v2h-1zM1314 354h1v1h-1zM1315 353h1v1h-1zM1316 352h1v1h-1zM1317 351h1v1h-1zM1318 350h1v1h-1zM1319 349h2v1h-2zM1321 348h1v1h-1zM1322 347h1v1h-1zM1323 346h1v1h-1zM1324 345h1v1h-1zM1325 344h1v1h-1zM1326 343h1v1h-1zM1327 342h2v1h-2zM1329 341h1v1h-1zM1330 340h1v1h-1zM1331 339h1v1h-1zM1332 338h1v1h-1zM1333 337h1v1h-1zM1334 336h1v1h-1zM1335 335h1v1h-1zM1336 334h1v1h-1zM1337 333h1v1h-1zM1338 332h1v1h-1zM1339 331h1v1h-1zM1340 329h1v2h-1zM1341 327h1v2h-1zM1342 325h1v2h-1zM1343 324h1v1h-1zM1344 322h1v2h-1zM1345 320h1v2h-1zM1346 318h1v2h-1zM1347 317h1v1h-1zM1348 316h2v1h-2zM1350 315h2v1h-2zM1352 314h2v1h-2zM1354 313h3v1h-3zM1357 314h4v1h-4zM1361 315h12v1h-12zM1373 316h4v1h-4zM1377 317h3v1h-3z" fill="#3cb371" shape-rendering="crispEdges"/>
<g shape-rendering="crispEdges">
<rect x="3" y="100" width="1" height="27" fill="#000"/>
<rect x="1" y="111" width="5" height="9" fill="#000"/>
<rect x="11" y="100" width="1" height="28" fill="#000"/>
<rect x="9.5" y="100.5" width="4" height="18" fill="#fff" stroke="#000" stroke-width="1"/>
<rect x="19" y="100" width="1" height="23" fill="#000"/>
<rect x="17" y="100" width="5" height="13" fill="#000"/>
<rect x="27" y="100" width="1" height="20" fill="#000"/>
<rect x="25" y="111" width="5" height="2" fill="#000"/>
<rect x="35" y="100" width="1" height="19" fill="#000"/>
<rect x="33" y="110" width="5" height="2" fill="#000"/>
<rect x="43" y="100" width="1" height="12" fill="#000"/>
<rect x="41.5" y="100.5" width="4" height="11" fill="#fff" stroke="#000" stroke-width="1"/>
<rect x="51" y="100" width="1" height="56" fill="#000"/>
<rect x="49" y="100" width="5" height="30" fill="#000"/>
<rect x="59" y="129" width="1" height="60" fill="#000"/>
<rect x="57" y="129" width="5" height="55" fill="#000"/>
<rect x="67" y="165" width="1" height="52" fill="#000"/>
<rect x="65" y="184" width="5" height="3" fill="#000"/>
<rect x="75" y="177" width="1" height="26" fill="#000"/>
<rect x="73" y="185" width="5" height="14" fill="#000"/>
<rect x="83" y="191" width="1" height="10" fill="#000"/>
<rect x="81.5" y="196.5" width="4" height="2" fill="#fff" stroke="#000" stroke-width="1"/>
<rect x="91" y="166" width="1" height="36" fill="#000"/>
<rect x="89.5" y="193.5" width="4" height="2" fill="#fff" stroke="#000" stroke-width="1"/>
<rect x="99" y="188" width="1" height="49" fill="#000"/>
<rect x="97" y="193" width="5" height="42" fill="#000"/>
<rect x="107" y="201" width="1" height="60" fill="#000"/>
<rect x="105.5" y="212.5" width="4" height="22" fill="#fff" stroke="#000" stroke-width="1"/>
<rect x="115" y="198" width="1" height="70" fill="#000"/>
<rect x="113" y="211" width="5" height="17" fill="#000"/>
<rect x="123" y="204" width="1" height="29" fill="#000"/>
<rect x="121" y="227" width="5" height="1" fill="#000"/>
<rect x="131" y="224" width="1" height="17" fill="#000"/>
<rect x="129" y="228" width="5" height="12" fill="#000"/>
<rect x="139" y="230" width="1" height="29" fill="#000"/>
<rect x="137" y="239" width="5" height="11" fill="#000"/>
<rect x="147" y="208" width="1" height="57" fill="#000"/>
<rect x="145.5" y="216.5" width="4" height="32" fill="#fff" stroke="#000" stroke-width="1"/>
<rect x="155" y="200" width="1" height="31" fill="#000"/>
<rect x="153.5" y="202.5" width="4" height="13" fill="#fff" stroke="#000" stroke-width="1"/>
<rect x="163" y="182" width="1" height="45" fill="#000"/>
<rect x="161" y="202" width="5" height="6" fill="#000"/>
<rect x="171" y="193" width="1" height="37" fill="#000"/>
<rect x="169" y="206" width="5" height="22" fill="#000"/>
<rect x="179" y="224" width="1" height="9" fill="#000"/>
<rect x="177" y="226" width="5" height="3" fill="#000"/>
<rect x="187" y="195" width="1" height="47" fill="#000"/>
<rect x="185.5" y="200.5" width="4" height="27" fill="#fff" stroke="#000" stroke-width="1"/>
<rect x="195" y="174" width="1" height="43" fill="#000"/>
<rect x="193.5" y="174.5" width="4" height="26" fill="#fff" stroke="#000" stroke-width="1"/>
<rect x="203" y="156" width="1" height="29" fill="#000"/>
<rect x="201" y="174" width="5" height="1" fill="#000"/>
<rect x="211" y="158" width="1" height="83" fill="#000"/>
<rect x="209" y="175" width="5" height="57" fill="#000"/>
<rect x="219" y="216" width="1" height="23" fill="#000"/>
<rect x="217" y="230" width="5" height="5" fill="#000"/>
<rect x="227" y="227" width="1" height="10" fill="#000"/>
<rect x="225" y="228" width="5" height="5" fill="#000"/>
<rect x="235" y="227" width="1" height="24" fill="#000"/>
<rect x="233" y="231" width="5" height="20" fill="#000"/>
<rect x="243" y="237" width="1" height="46" fill="#000"/>
<rect x="241.5" y="243.5" width="4" height="6" fill="#fff" stroke="#000" stroke-width="1"/>
<rect x="251" y="235" width="1" height="31" fill="#000"/>
<rect x="249" y="243" width="5" height="13" fill="#000"/>
<rect x="259" y="214" width="1" height="46" fill="#000"/>
<rect x="257.5" y="224.5" width="4" height="31" fill="#fff" stroke="#000" stroke-width="1"/>
<rect x="267" y="222" width="1" height="31" fill="#000"/>
<rect x="265" y="223" width="5" height="9" fill="#000"/>
<rect x="275" y="220" width="1" height="13" fill="#000"/>
<rect x="273" y="231" width="5" height="1" fill="#000"/>
<rect x="283" y="218" width="1" height="45" fill="#000"/>
<rect x="281" y="232" width="5" height="23" fill="#000"/>
<rect x="291" y="250" width="1" height="43" fill="#000"/>
<rect x="289" y="254" width="5" height="5" fill="#000"/>
<rect x="299" y="254" width="1" height="49" fill="#000"/>
<rect x="297" y="258" width="5" height="35" fill="#000"/>
<rect x="307" y="226" width="1" height="78" fill="#000"/>
<rect x="305.5" y="285.5" width="4" height="7" fill="#fff" stroke="#000" stroke-width="1"/>
<rect x="315" y="278" width="1" height="44" fill="#000"/>
<rect x="313" y="285" width="5" height="26" fill="#000"/>
<rect x="323" y="305" width="1" height="13" fill="#000"/>
<rect x="321" y="310" width="5" height="6" fill="#000"/>
<rect x="331" y="302" width="1" height="40" fill="#000"/>
<rect x="329.5" y="307.5" width="4" height="7" fill="#fff" stroke="#000" stroke-width="1"/>
<rect x="339" y="293" width="1" height="40" fill="#000"/>
<rect x="337" y="307" width="5" height="2" fill="#000"/>
<rect x="347" y="281" width="1" height="39" fill="#000"/>
<rect x="345" y="307" width="5" height="7" fill="#000"/>
<rect x="355" y="278" width="1" height="41" fill="#000"/>
<rect x="353.5" y="304.5" width="4" height="9" fill="#fff" stroke="#000" stroke-width="1"/>
<rect x="363" y="286" width="1" height="25" fill="#000"/>
<rect x="361.5" y="287.5" width="4" height="16" fill="#fff" stroke="#000" stroke-width="1"/>
<rect x="371" y="269" width="1" height="24" fill="#000"/>
<rect x="369.5" y="274.5" width="4" height="12" fill="#fff" stroke="#000" stroke-width="1"/>
<rect x="379" y="263" width="1" height="46" fill="#000"/>
<rect x="377" y="274" width="5" height="30" fill="#000"/>
<rect x="387" y="298" width="1" height="32" fill="#000"/>
<rect x="385" y="302" width="5" height="19" fill="#000"/>
<rect x="395" y="305" width="1" height="24" fill="#000"/>
<rect x="393.5" y="309.5" width="4" height="11" fill="#fff" stroke="#000" stroke-width="1"/>
<rect x="403" y="305" width="1" height="85" fill="#000"/>
<rect x="401" y="311" width="5" height="56" fill="#000"/>
<rect x="411" y="341" width="1" height="31" fill="#000"/>
<rect x="409.5" y="354.5" width="4" height="13" fill="#fff" stroke="#000" stroke-width="1"/>
<rect x="419" y="348" width="1" height="29" fill="#000"/>
<rect x="417" y="354" width="5" height="6" fill="#000"/>
<rect x="427" y="346" width="1" height="32" fill="#000"/>
<rect x="425.5" y="353.5" width="4" height="6" fill="#fff" stroke="#000" stroke-width="1"/>
<rect x="435" y="314" width="1" height="38" fill="#000"/>
<rect x="433.5" y="316.5" width="4" height="36" fill="#fff" stroke="#000" stroke-width="1"/>
<rect x="443" y="307" width="1" height="40" fill="#000"/>
<rect x="441" y="315" width="5" height="14" fill="#000"/>
<rect x="451" y="313" width="1" height="91" fill="#000"/>
<rect x="449" y="328" width="5" height="59" fill="#000"/>
<rect x="459" y="375" width="1" height="28" fill="#000"/>
<rect x="457" y="386" width="5" height="7" fill="#000"/>
<rect x="467" y="403" width="1" height="11" fill="#000"/>
<rect x="465" y="405" width="5" height="2" fill="#000"/>
<rect x="475" y="398" width="1" height="73" fill="#000"/>
<rect x="473" y="407" width="5" height="54" fill="#000"/>
<rect x="483" y="441" width="1" height="29" fill="#000"/>
<rect x="481.5" y="452.5" width="4" height="8" fill="#fff" stroke="#000" stroke-width="1"/>
<rect x="491" y="441" width="1" height="38" fill="#000"/>
<rect x="489" y="451" width="5" height="25" fill="#000"/>
<rect x="499" y="408" width="1" height="74" fill="#000"/>
<rect x="497.5" y="436.5" width="4" height="39" fill="#fff" stroke="#000" stroke-width="1"/>
<rect x="507" y="407" width="1" height="51" fill="#000"/>
<rect x="505.5" y="408.5" width="4" height="28" fill="#fff" stroke="#000" stroke-width="1"/>
<rect x="515" y="405" width="1" height="27" fill="#000"/>
<rect x="513" y="408" width="5" height="7" fill="#000"/>
<rect x="523" y="397" width="1" height="35" fill="#000"/>
<rect x="521.5" y="398.5" width="4" height="16" fill="#fff" stroke="#000" stroke-width="1"/>
<rect x="531" y="382" width="1" height="25" fill="#000"/>
<rect x="529.5" y="395.5" width="4" height="4" fill="#fff" stroke="#000" stroke-width="1"/>
<rect x="539" y="373" width="1" height="44" fill="#000"/>
<rect x="537" y="396" width="5" height="11" fill="#000"/>
<rect x="547" y="405" width="1" height="75" fill="#000"/>
<rect x="545" y="406" width="5" height="42" fill="#000"/>
<rect x="555" y="443" width="1" height="27" fill="#000"/>
<rect x="553" y="447" width="5" height="13" fill="#000"/>
<rect x="563" y="455" width="1" height="18" fill="#000"/>
<rect x="561" y="459" width="5" height="9" fill="#000"/>
<rect x="571" y="399" width="1" height="77" fill="#000"/>
<rect x="569.5" y="448.5" width="4" height="20" fill="#fff" stroke="#000" stroke-width="1"/>
<rect x="579" y="420" width="1" height="31" fill="#000"/>
<rect x="577.5" y="444.5" width="4" height="4" fill="#fff" stroke="#000" stroke-width="1"/>
<rect x="587" y="423" width="1" height="28" fill="#000"/>
<rect x="585.5" y="430.5" width="4" height="13" fill="#fff" stroke="#000" stroke-width="1"/>
<rect x="595" y="404" width="1" height="50" fill="#000"/>
<rect x="593.5" y="409.5" width="4" height="21" fill="#fff" stroke="#000" stroke-width="1"/>
<rect x="603" y="351" width="1" height="111" fill="#000"/>
<rect x="601" y="409" width="5" height="40" fill="#000"/>
<rect x="611" y="443" width="1" height="19" fill="#000"/>
<rect x="609" y="447" width="5" height="14" fill="#000"/>
<rect x="619" y="448" width="1" height="29" fill="#000"/>
<rect x="617.5" y="452.5" width="4" height="8" fill="#fff" stroke="#000" stroke-width="1"/>
<rect x="627" y="408" width="1" height="51" fill="#000"/>
<rect x="625.5" y="408.5" width="4" height="44" fill="#fff" stroke="#000" stroke-width="1"/>
<rect x="635" y="361" width="1" height="57" fill="#000"/>
<rect x="633.5" y="381.5" width="4" height="27" fill="#fff" stroke="#000" stroke-width="1"/>
<rect x="643" y="322" width="1" height="72" fill="#000"/>
<rect x="641.5" y="350.5" width="4" height="31" fill="#fff" stroke="#000" stroke-width="1"/>
<rect x="651" y="318" width="1" height="40" fill="#000"/>
<rect x="649.5" y="340.5" width="4" height="11" fill="#fff" stroke="#000" stroke-width="1"/>
<rect x="659" y="339" width="1" height="21" fill="#000"/>
<rect x="657" y="339" width="5" height="11" fill="#000"/>
<rect x="667" y="316" width="1" height="48" fill="#000"/>
<rect x="665.5" y="345.5" width="4" height="4" fill="#fff" stroke="#000" stroke-width="1"/>
<rect x="675" y="341" width="1" height="48" fill="#000"/>
<rect x="673" y="345" width="5" height="35" fill="#000"/>
<rect x="683" y="371" width="1" height="64" fill="#000"/>
<rect x="681" y="379" width="5" height="55" fill="#000"/>
<rect x="691" y="411" width="1" height="44" fill="#000"/>
<rect x="689.5" y="418.5" width="4" height="15" fill="#fff" stroke="#000" stroke-width="1"/>
<rect x="699" y="403" width="1" height="22" fill="#000"/>
<rect x="697" y="419" width="5" height="1" fill="#000"/>
<rect x="707" y="398" width="1" height="16" fill="#000"/>
<rect x="705.5" y="404.5" width="4" height="6" fill="#fff" stroke="#000" stroke-width="1"/>
<rect x="715" y="361" width="1" height="44" fill="#000"/>
<rect x="713.5" y="382.5" width="4" height="22" fill="#fff" stroke="#000" stroke-width="1"/>
<rect x="723" y="366" width="1" height="43" fill="#000"/>
<rect x="721" y="382" width="5" height="27" fill="#000"/>
<rect x="731" y="392" width="1" height="39" fill="#000"/>
<rect x="729" y="407" width="5" height="19" fill="#000"/>
<rect x="739" y="365" width="1" height="66" fill="#000"/>
<rect x="737.5" y="372.5" width="4" height="53" fill="#fff" stroke="#000" stroke-width="1"/>
<rect x="747" y="354" width="1" height="23" fill="#000"/>
<rect x="745.5" y="362.5" width="4" height="10" fill="#fff" stroke="#000" stroke-width="1"/>
<rect x="755" y="361" width="1" height="19" fill="#000"/>
<rect x="753" y="362" width="5" height="17" fill="#000"/>
<rect x="763" y="333" width="1" height="71" fill="#000"/>
<rect x="761.5" y="348.5" width="4" height="29" fill="#fff" stroke="#000" stroke-width="1"/>
<rect x="771" y="325" width="1" height="83" fill="#000"/>
<rect x="769" y="348" width="5" height="41" fill="#000"/>
<rect x="779" y="388" width="1" height="57" fill="#000"/>
<rect x="777" y="388" width="5" height="35" fill="#000"/>
<rect x="787" y="419" width="1" height="47" fill="#000"/>
<rect x="785" y="422" width="5" height="33" fill="#000"/>
<rect x="795" y="442" width="1" height="31" fill="#000"/>
<rect x="793.5" y="448.5" width="4" height="6" fill="#fff" stroke="#000" stroke-width="1"/>
<rect x="803" y="438" width="1" height="19" fill="#000"/>
<rect x="801.5" y="440.5" width="4" height="8" fill="#fff" stroke="#000" stroke-width="1"/>
<rect x="811" y="429" width="1" height="41" fill="#000"/>
<rect x="809.5" y="431.5" width="4" height="8" fill="#fff" stroke="#000" stroke-width="1"/>
<rect x="819" y="405" width="1" height="50" fill="#000"/>
<rect x="817" y="431" width="5" height="3" fill="#000"/>
<rect x="827" y="419" width="1" height="58" fill="#000"/>
<rect x="825" y="433" width="5" height="31" fill="#000"/>
<rect x="835" y="453" width="1" height="96" fill="#000"/>
<rect x="833" y="463" width="5" height="73" fill="#000"/>
<rect x="843" y="528" width="1" height="38" fill="#000"/>
<rect x="841" y="535" width="5" height="26" fill="#000"/>
<rect x="851" y="547" width="1" height="17" fill="#000"/>
<rect x="849.5" y="552.5" width="4" height="8" fill="#fff" stroke="#000" stroke-width="1"/>
<rect x="859" y="503" width="1" height="53" fill="#000"/>
<rect x="857.5" y="510.5" width="4" height="42" fill="#fff" stroke="#000" stroke-width="1"/>
<rect x="867" y="494" width="1" height="41" fill="#000"/>
<rect x="865.5" y="501.5" width="4" height="9" fill="#fff" stroke="#000" stroke-width="1"/>
<rect x="875" y="490" width="1" height="49" fill="#000"/>
<rect x="873" y="501" width="5" height="25" fill="#000"/>
<rect x="883" y="417" width="1" height="112" fill="#000"/>
<rect x="881.5" y="467.5" width="4" height="58" fill="#fff" stroke="#000" stroke-width="1"/>
<rect x="891" y="452" width="1" height="53" fill="#000"/>
<rect x="889" y="467" width="5" height="4" fill="#000"/>
<rect x="899" y="462" width="1" height="13" fill="#000"/>
<rect x="897.5" y="466.5" width="4" height="4" fill="#fff" stroke="#000" stroke-width="1"/>
<rect x="907" y="446" width="1" height="43" fill="#000"/>
<rect x="905" y="468" width="5" height="18" fill="#000"/>
<rect x="915" y="482" width="1" height="48" fill="#000"/>
<rect x="913" y="485" width="5" height="22" fill="#000"/>
<rect x="923" y="412" width="1" height="99" fill="#000"/>
<rect x="921.5" y="413.5" width="4" height="94" fill="#fff" stroke="#000" stroke-width="1"/>
<rect x="931" y="388" width="1" height="49" fill="#000"/>
<rect x="929.5" y="395.5" width="4" height="18" fill="#fff" stroke="#000" stroke-width="1"/>
<rect x="939" y="385" width="1" height="19" fill="#000"/>
<rect x="937" y="395" width="5" height="8" fill="#000"/>
<rect x="947" y="376" width="1" height="12" fill="#000"/>
<rect x="945" y="383" width="5" height="6" fill="#000"/>
<rect x="955" y="374" width="1" height="54" fill="#000"/>
<rect x="953" y="387" width="5" height="23" fill="#000"/>
<rect x="963" y="386" width="1" height="42" fill="#000"/>
<rect x="961.5" y="404.5" width="4" height="5" fill="#fff" stroke="#000" stroke-width="1"/>
<rect x="971" y="363" width="1" height="66" fill="#000"/>
<rect x="969.5" y="363.5" width="4" height="41" fill="#fff" stroke="#000" stroke-width="1"/>
<rect x="979" y="337" width="1" height="56" fill="#000"/>
<rect x="977" y="362" width="5" height="12" fill="#000"/>
<rect x="987" y="359" width="1" height="19" fill="#000"/>
<rect x="985.5" y="363.5" width="4" height="11" fill="#fff" stroke="#000" stroke-width="1"/>
<rect x="995" y="354" width="1" height="33" fill="#000"/>
<rect x="993" y="362" width="5" height="2" fill="#000"/>
<rect x="1003" y="355" width="1" height="55" fill="#000"/>
<rect x="1001" y="363" width="5" height="37" fill="#000"/>
<rect x="1011" y="389" width="1" height="44" fill="#000"/>
<rect x="1009.5" y="398.5" width="4" height="2" fill="#fff" stroke="#000" stroke-width="1"/>
<rect x="1019" y="374" width="1" height="30" fill="#000"/>
<rect x="1017.5" y="380.5" width="4" height="18" fill="#fff" stroke="#000" stroke-width="1"/>
<rect x="1027" y="347" width="1" height="54" fill="#000"/>
<rect x="1025.5" y="352.5" width="4" height="28" fill="#fff" stroke="#000" stroke-width="1"/>
<rect x="1035" y="342" width="1" height="25" fill="#000"/>
<rect x="1033" y="352" width="5" height="14" fill="#000"/>
<rect x="1043" y="356" width="1" height="13" fill="#000"/>
<rect x="1041" y="365" width="5" height="1" fill="#000"/>
<rect x="1051" y="358" width="1" height="55" fill="#000"/>
<rect x="1049" y="365" width="5" height="38" fill="#000"/>
<rect x="1059" y="399" width="1" height="63" fill="#000"/>
<rect x="1057" y="402" width="5" height="58" fill="#000"/>
<rect x="1067" y="437" width="1" height="35" fill="#000"/>
<rect x="1065.5" y="440.5" width="4" height="18" fill="#fff" stroke="#000" stroke-width="1"/>
<rect x="1075" y="400" width="1" height="46" fill="#000"/>
<rect x="1073.5" y="419.5" width="4" height="20" fill="#fff" stroke="#000" stroke-width="1"/>
<rect x="1083" y="385" width="1" height="51" fill="#000"/>
<rect x="1081.5" y="387.5" width="4" height="32" fill="#fff" stroke="#000" stroke-width="1"/>
<rect x="1091" y="372" width="1" height="26" fill="#000"/>
<rect x="1089.5" y="374.5" width="4" height="14" fill="#fff" stroke="#000" stroke-width="1"/>
<rect x="1099" y="361" width="1" height="25" fill="#000"/>
<rect x="1097.5" y="370.5" width="4" height="6" fill="#fff" stroke="#000" stroke-width="1"/>
<rect x="1107" y="340" width="1" height="55" fill="#000"/>
<rect x="1105.5" y="354.5" width="4" height="17" fill="#fff" stroke="#000" stroke-width="1"/>
<rect x="1115" y="323" width="1" height="57" fill="#000"/>
<rect x="1113.5" y="336.5" width="4" height="18" fill="#fff" stroke="#000" stroke-width="1"/>
<rect x="1123" y="302" width="1" height="82" fill="#000"/>
<rect x="1121.5" y="308.5" width="4" height="28" fill="#fff" stroke="#000" stroke-width="1"/>
<rect x="1131" y="307" width="1" height="24" fill="#000"/>
<rect x="1129" y="308" width="5" height="15" fill="#000"/>
<rect x="1139" y="314" width="1" height="15" fill="#000"/>
<rect x="1137.5" y="316.5" width="4" height="6" fill="#fff" stroke="#000" stroke-width="1"/>
<rect x="1147" y="303" width="1" height="35" fill="#000"/>
<rect x="1145" y="316" width="5" height="19" fill="#000"/>
<rect x="1155" y="327" width="1" height="38" fill="#000"/>
<rect x="1153" y="334" width="5" height="21" fill="#000"/>
<rect x="1163" y="335" width="1" height="30" fill="#000"/>
<rect x="1161.5" y="337.5" width="4" height="19" fill="#fff" stroke="#000" stroke-width="1"/>
<rect x="1171" y="279" width="1" height="68" fill="#000"/>
<rect x="1169.5" y="330.5" width="4" height="7" fill="#fff" stroke="#000" stroke-width="1"/>
<rect x="1179" y="318" width="1" height="28" fill="#000"/>
<rect x="1177.5" y="321.5" width="4" height="9" fill="#fff" stroke="#000" stroke-width="1"/>
<rect x="1187" y="337" width="1" height="22" fill="#000"/>
<rect x="1185" y="338" width="5" height="17" fill="#000"/>
<rect x="1195" y="291" width="1" height="64" fill="#000"/>
<rect x="1193.5" y="313.5" width="4" height="40" fill="#fff" stroke="#000" stroke-width="1"/>
<rect x="1203" y="268" width="1" height="51" fill="#000"/>
<rect x="1201.5" y="272.5" width="4" height="41" fill="#fff" stroke="#000" stroke-width="1"/>
<rect x="1211" y="259" width="1" height="33" fill="#000"/>
<rect x="1209" y="270" width="5" height="2" fill="#000"/>
<rect x="1219" y="219" width="1" height="60" fill="#000"/>
<rect x="1217.5" y="227.5" width="4" height="43" fill="#fff" stroke="#000" stroke-width="1"/>
<rect x="1227" y="227" width="1" height="43" fill="#000"/>
<rect x="1225" y="227" width="5" height="43" fill="#000"/>
<rect x="1235" y="253" width="1" height="19" fill="#000"/>
<rect x="1233.5" y="261.5" width="4" height="8" fill="#fff" stroke="#000" stroke-width="1"/>
<rect x="1243" y="258" width="1" height="32" fill="#000"/>
<rect x="1241" y="261" width="5" height="20" fill="#000"/>
<rect x="1251" y="237" width="1" height="43" fill="#000"/>
<rect x="1249.5" y="250.5" width="4" height="30" fill="#fff" stroke="#000" stroke-width="1"/>
<rect x="1259" y="200" width="1" height="59" fill="#000"/>
<rect x="1257.5" y="201.5" width="4" height="49" fill="#fff" stroke="#000" stroke-width="1"/>
<rect x="1267" y="199" width="1" height="65" fill="#000"/>
<rect x="1265" y="201" width="5" height="34" fill="#000"/>
<rect x="1275" y="231" width="1" height="31" fill="#000"/>
<rect x="1273" y="234" width="5" height="19" fill="#000"/>
<rect x="1283" y="252" width="1" height="38" fill="#000"/>
<rect x="1281" y="252" width="5" height="36" fill="#000"/>
<rect x="1291" y="267" width="1" height="27" fill="#000"/>
<rect x="1289.5" y="281.5" width="4" height="7" fill="#fff" stroke="#000" stroke-width="1"/>
<rect x="1299" y="256" width="1" height="32" fill="#000"/>
<rect x="1297.5" y="261.5" width="4" height="19" fill="#fff" stroke="#000" stroke-width="1"/>
<rect x="1307" y="238" width="1" height="28" fill="#000"/>
<rect x="1305.5" y="250.5" width="4" height="11" fill="#fff" stroke="#000" stroke-width="1"/>
<rect x="1315" y="213" width="1" height="92" fill="#000"/>
<rect x="1313.5" y="223.5" width="4" height="26" fill="#fff" stroke="#000" stroke-width="1"/>
<rect x="1323" y="204" width="1" height="22" fill="#000"/>
<rect x="1321.5" y="207.5" width="4" height="16" fill="#fff" stroke="#000" stroke-width="1"/>
<rect x="1331" y="201" width="1" height="12" fill="#000"/>
<rect x="1329.5" y="201.5" width="4" height="6" fill="#fff" stroke="#000" stroke-width="1"/>
<rect x="1339" y="182" width="1" height="40" fill="#000"/>
<rect x="1337.5" y="192.5" width="4" height="10" fill="#fff" stroke="#000" stroke-width="1"/>
<rect x="1347" y="165" width="1" height="36" fill="#000"/>
<rect x="1345.5" y="171.5" width="4" height="21" fill="#fff" stroke="#000" stroke-width="1"/>
<rect x="1355" y="139" width="1" height="32" fill="#000"/>
<rect x="1353.5" y="153.5" width="4" height="18" fill="#fff" stroke="#000" stroke-width="1"/>
<rect x="1363" y="127" width="1" height="32" fill="#000"/>
<rect x="1361.5" y="140.5" width="4" height="12" fill="#fff" stroke="#000" stroke-width="1"/>
<rect x="1371" y="136" width="1" height="23" fill="#000"/>
<rect x="1369" y="139" width="5" height="9" fill="#000"/>
<rect x="1379" y="141" width="1" height="7" fill="#000"/>
<rect x="1377" y="146" width="5" height="2" fill="#000"/>
<rect x="1641.5" y="93.5" width="4" height="4" fill="#fff" stroke="#ff0000" stroke-width="1"/>
<rect x="1641.5" y="118.5" width="4" height="4" fill="#fff" stroke="#ff0000" stroke-width="1"/>
<rect x="1641.5" y="159.5" width="4" height="4" fill="#fff" stroke="#ffa500" stroke-width="1"/>
<rect x="1641.5" y="183.5" width="4" height="4" fill="#fff" stroke="#0000ff" stroke-width="1"/>
<rect x="1641.5" y="204.5" width="4" height="4" fill="#fff" stroke="#0000ff" stroke-width="1"/>
</g>
<line x1="1286.3" y1="293.6" x2="1390.77" y2="131.34" stroke="#ff0000" stroke-width="3.5" shape-rendering="crispEdges"/>
<polygon points="1396.4,122.6 1394.35,134.84 1386.11,129.53" fill="#ff0000" shape-rendering="crispEdges"/>
<g shape-rendering="crispEdges">
<rect x="1172" y="161" width="10" height="1" fill="#ff0000"/>
<rect x="1179.5" y="159.5" width="2" height="3" fill="#fff" stroke="#ff0000"/>
</g>
<rect x="1182.5" y="149.5" width="73" height="24" fill="#fff" stroke="#ff0000" stroke-width="1" shape-rendering="crispEdges"/>
<text x="1184.2" y="170" font-size="22" fill="#ff0000" textLength="70.6" lengthAdjust="spacingAndGlyphs" stroke="#ff0000" stroke-width="0.12">0.74057</text>
<rect x="1292.5" y="118.5" width="61" height="18" fill="#fff" stroke="#ff0000" stroke-width="1" shape-rendering="crispEdges"/>
<text x="1294.2" y="134" font-size="16" fill="#ff0000" textLength="58.2" lengthAdjust="spacingAndGlyphs">0.74254</text>
<g shape-rendering="crispEdges">
<rect x="1354.5" y="125.5" width="2" height="3" fill="#fff" stroke="#ff0000"/>
<rect x="1357" y="127" width="7" height="1" fill="#ff0000"/>
</g>
<rect x="772.5" y="557.5" width="61" height="18" fill="#fff" stroke="#ff0000" stroke-width="1" shape-rendering="crispEdges"/>
<text x="774.2" y="573" font-size="16" fill="#ff0000" textLength="58.2" lengthAdjust="spacingAndGlyphs">0.71698</text>
<g shape-rendering="crispEdges">
<rect x="834" y="566" width="10" height="1" fill="#ff0000"/>
</g>
<rect x="1326" y="159" width="95" height="5.7" fill="#00f600"/>
<text x="2.5" y="38.6" font-size="10" fill="#000" stroke="#000" stroke-width="0.1" textLength="58" lengthAdjust="spacingAndGlyphs">AUDUSD-,H4</text>
<text x="66.8" y="38.6" font-size="10" fill="#000" stroke="#000" stroke-width="0.1" textLength="33" lengthAdjust="spacingAndGlyphs">0.74143</text>
<text x="102.8" y="38.6" font-size="10" fill="#000" stroke="#000" stroke-width="0.1" textLength="33" lengthAdjust="spacingAndGlyphs">0.74177</text>
<text x="138.8" y="38.6" font-size="10" fill="#000" stroke="#000" stroke-width="0.1" textLength="33" lengthAdjust="spacingAndGlyphs">0.74132</text>
<text x="174.8" y="38.6" font-size="10" fill="#000" stroke="#000" stroke-width="0.1" textLength="33" lengthAdjust="spacingAndGlyphs">0.74138</text>
<polygon points="1390.5,28 1400.5,28 1395.5,33.5" fill="#c0c0c0"/>
<rect x="0" y="44" width="211" height="62" fill="#fff"/>
<g shape-rendering="crispEdges">
<rect x="0" y="47" width="42" height="24" fill="url(#gSell)"/>
<rect x="157" y="47" width="52" height="24" fill="url(#gSell)"/>
<rect x="0" y="71" width="99" height="33" fill="url(#gPrice)"/>
<rect x="101" y="71" width="108" height="33" fill="url(#gPrice)"/>
<rect x="0" y="47" width="42" height="1" fill="#c41a1a"/>
<rect x="157" y="47" width="52" height="1" fill="#c41a1a"/>
<rect x="41" y="47" width="1" height="24" fill="#c41a1a"/>
<rect x="157" y="47" width="1" height="24" fill="#c41a1a"/>
<rect x="208" y="47" width="1" height="57" fill="#b00a0a"/>
<rect x="98" y="71" width="1" height="33" fill="#b00a0a"/>
<rect x="101" y="71" width="1" height="33" fill="#b00a0a"/>
<rect x="0" y="70" width="38" height="1" fill="#a80808"/>
<rect x="161" y="70" width="44" height="1" fill="#a80808"/>
<rect x="42" y="71" width="57" height="1" fill="#c01515"/>
<rect x="101" y="71" width="56" height="1" fill="#c01515"/>
<rect x="0" y="103" width="99" height="1" fill="#a00000"/>
<rect x="101" y="103" width="108" height="1" fill="#a00000"/>
<rect x="44" y="47" width="110" height="21" fill="#fff" stroke="#a3a9b8" stroke-width="1" transform="translate(0.5,0.5)"/>
<rect x="46" y="49" width="19" height="17" fill="url(#gSpin)"/>
<rect x="135" y="49" width="18" height="17" fill="url(#gSpin)"/>
<rect x="65" y="48" width="1" height="20" fill="#a3a9b8"/>
<rect x="134" y="48" width="1" height="20" fill="#a3a9b8"/>
</g>
<polygon points="51.5,56 57.5,56 54.5,59.5" fill="#4a5fc0"/>
<polygon points="140.5,59.5 146.5,59.5 143.5,56" fill="#4a5fc0"/>
<text x="2.2" y="63" font-size="12" fill="#fff" textLength="26" lengthAdjust="spacingAndGlyphs">SELL</text>
<text x="170.6" y="63" font-size="12" fill="#fff" textLength="23" lengthAdjust="spacingAndGlyphs">BUY</text>
<text x="130.5" y="62" font-size="12" fill="#000" text-anchor="end">1.00</text>
<text x="10" y="99" font-size="12" fill="#fff" textLength="24.5" lengthAdjust="spacingAndGlyphs" font-weight="bold">0.74</text>
<text x="119.5" y="99" font-size="12" fill="#fff" textLength="24.5" lengthAdjust="spacingAndGlyphs" font-weight="bold">0.74</text>
<text x="36.5" y="99" font-size="34" fill="#fff" textLength="35.5" lengthAdjust="spacingAndGlyphs">13</text>
<text x="147.5" y="99" font-size="34" fill="#fff" textLength="35.5" lengthAdjust="spacingAndGlyphs">17</text>
<text x="76.5" y="83" font-size="12" fill="#fff" font-weight="bold">8</text>
<text x="187.3" y="83" font-size="12" fill="#fff" font-weight="bold">0</text>
<g shape-rendering="crispEdges">
<rect x="0" y="27" width="1647" height="1" fill="#000"/>
<rect x="1646" y="27" width="1" height="554" fill="#000"/>
<rect x="0" y="580" width="1647" height="1" fill="#000"/>
<rect x="0" y="582" width="1647" height="1" fill="#000"/>
<rect x="1646" y="582" width="1" height="171" fill="#000"/>
<rect x="0" y="752" width="1647" height="1" fill="#000"/>
<rect x="0" y="754" width="1647" height="1" fill="#000"/>
<rect x="1646" y="754" width="1" height="175" fill="#000"/>
<rect x="0" y="928" width="1647" height="1" fill="#000"/>
<rect x="1647" y="49" width="2" height="1" fill="#000"/>
<rect x="1647" y="82" width="2" height="1" fill="#000"/>
<rect x="1647" y="115" width="2" height="1" fill="#000"/>
<rect x="1647" y="148" width="2" height="1" fill="#000"/>
<rect x="1647" y="181" width="2" height="1" fill="#000"/>
<rect x="1647" y="214" width="2" height="1" fill="#000"/>
<rect x="1647" y="247" width="2" height="1" fill="#000"/>
<rect x="1647" y="280" width="2" height="1" fill="#000"/>
<rect x="1647" y="313" width="2" height="1" fill="#000"/>
<rect x="1647" y="346" width="2" height="1" fill="#000"/>
<rect x="1647" y="379" width="2" height="1" fill="#000"/>
<rect x="1647" y="412" width="2" height="1" fill="#000"/>
<rect x="1647" y="445" width="2" height="1" fill="#000"/>
<rect x="1647" y="478" width="2" height="1" fill="#000"/>
<rect x="1647" y="511" width="2" height="1" fill="#000"/>
<rect x="1647" y="544" width="2" height="1" fill="#000"/>
<rect x="1647" y="577" width="2" height="1" fill="#000"/>
</g>
<text x="1651.6" y="52.9" font-size="10" fill="#000" stroke="#000" stroke-width="0.1" textLength="33" lengthAdjust="spacingAndGlyphs">0.74710</text>
<text x="1651.6" y="85.9" font-size="10" fill="#000" stroke="#000" stroke-width="0.1" textLength="33" lengthAdjust="spacingAndGlyphs">0.74520</text>
<text x="1651.6" y="118.9" font-size="10" fill="#000" stroke="#000" stroke-width="0.1" textLength="33" lengthAdjust="spacingAndGlyphs">0.74325</text>
<text x="1651.6" y="151.9" font-size="10" fill="#000" stroke="#000" stroke-width="0.1" textLength="33" lengthAdjust="spacingAndGlyphs">0.74135</text>
<text x="1651.6" y="184.9" font-size="10" fill="#000" stroke="#000" stroke-width="0.1" textLength="33" lengthAdjust="spacingAndGlyphs">0.73940</text>
<text x="1651.6" y="217.9" font-size="10" fill="#000" stroke="#000" stroke-width="0.1" textLength="33" lengthAdjust="spacingAndGlyphs">0.73750</text>
<text x="1651.6" y="250.9" font-size="10" fill="#000" stroke="#000" stroke-width="0.1" textLength="33" lengthAdjust="spacingAndGlyphs">0.73555</text>
<text x="1651.6" y="283.9" font-size="10" fill="#000" stroke="#000" stroke-width="0.1" textLength="33" lengthAdjust="spacingAndGlyphs">0.73365</text>
<text x="1651.6" y="316.9" font-size="10" fill="#000" stroke="#000" stroke-width="0.1" textLength="33" lengthAdjust="spacingAndGlyphs">0.73170</text>
<text x="1651.6" y="349.9" font-size="10" fill="#000" stroke="#000" stroke-width="0.1" textLength="33" lengthAdjust="spacingAndGlyphs">0.72980</text>
<text x="1651.6" y="382.9" font-size="10" fill="#000" stroke="#000" stroke-width="0.1" textLength="33" lengthAdjust="spacingAndGlyphs">0.72790</text>
<text x="1651.6" y="415.9" font-size="10" fill="#000" stroke="#000" stroke-width="0.1" textLength="33" lengthAdjust="spacingAndGlyphs">0.72595</text>
<text x="1651.6" y="448.9" font-size="10" fill="#000" stroke="#000" stroke-width="0.1" textLength="33" lengthAdjust="spacingAndGlyphs">0.72405</text>
<text x="1651.6" y="481.9" font-size="10" fill="#000" stroke="#000" stroke-width="0.1" textLength="33" lengthAdjust="spacingAndGlyphs">0.72210</text>
<text x="1651.6" y="514.9" font-size="10" fill="#000" stroke="#000" stroke-width="0.1" textLength="33" lengthAdjust="spacingAndGlyphs">0.72020</text>
<text x="1651.6" y="547.9" font-size="10" fill="#000" stroke="#000" stroke-width="0.1" textLength="33" lengthAdjust="spacingAndGlyphs">0.71825</text>
<text x="1651.6" y="580.9" font-size="10" fill="#000" stroke="#000" stroke-width="0.1" textLength="33" lengthAdjust="spacingAndGlyphs">0.71635</text>
<rect x="1648" y="89" width="41" height="11" fill="#ff0000" shape-rendering="crispEdges"/>
<text x="1651.6" y="98.1" font-size="10" fill="#fff" stroke="#fff" stroke-width="0.1" textLength="33" lengthAdjust="spacingAndGlyphs">0.74440</text>
<rect x="1648" y="114" width="41" height="11" fill="#ff0000" shape-rendering="crispEdges"/>
<text x="1651.6" y="123.1" font-size="10" fill="#fff" stroke="#fff" stroke-width="0.1" textLength="33" lengthAdjust="spacingAndGlyphs">0.74295</text>
<rect x="1648" y="142" width="41" height="11" fill="#000000" shape-rendering="crispEdges"/>
<text x="1651.6" y="151.1" font-size="10" fill="#fff" stroke="#fff" stroke-width="0.1" textLength="33" lengthAdjust="spacingAndGlyphs">0.74138</text>
<rect x="1648" y="155" width="41" height="11" fill="#ffa500" shape-rendering="crispEdges"/>
<text x="1651.6" y="164.1" font-size="10" fill="#fff" stroke="#fff" stroke-width="0.1" textLength="33" lengthAdjust="spacingAndGlyphs">0.74057</text>
<rect x="1648" y="179" width="41" height="11" fill="#0000ff" shape-rendering="crispEdges"/>
<text x="1651.6" y="188.1" font-size="10" fill="#fff" stroke="#fff" stroke-width="0.1" textLength="33" lengthAdjust="spacingAndGlyphs">0.73917</text>
<rect x="1648" y="200" width="41" height="11" fill="#0000ff" shape-rendering="crispEdges"/>
<text x="1651.6" y="209.1" font-size="10" fill="#fff" stroke="#fff" stroke-width="0.1" textLength="33" lengthAdjust="spacingAndGlyphs">0.73795</text>
<g shape-rendering="crispEdges">
<rect x="3" y="599" width="1" height="81" fill="#c0c0c0"/>
<rect x="11" y="601" width="1" height="79" fill="#c0c0c0"/>
<rect x="19" y="605" width="1" height="75" fill="#c0c0c0"/>
<rect x="27" y="608" width="1" height="72" fill="#c0c0c0"/>
<rect x="35" y="612" width="1" height="68" fill="#c0c0c0"/>
<rect x="43" y="615" width="1" height="65" fill="#c0c0c0"/>
<rect x="51" y="620" width="1" height="60" fill="#c0c0c0"/>
<rect x="59" y="631" width="1" height="49" fill="#c0c0c0"/>
<rect x="67" y="641" width="1" height="39" fill="#c0c0c0"/>
<rect x="75" y="650" width="1" height="30" fill="#c0c0c0"/>
<rect x="83" y="657" width="1" height="23" fill="#c0c0c0"/>
<rect x="91" y="663" width="1" height="17" fill="#c0c0c0"/>
<rect x="99" y="672" width="1" height="8" fill="#c0c0c0"/>
<rect x="107" y="677" width="1" height="3" fill="#c0c0c0"/>
<rect x="115" y="679" width="1" height="1" fill="#c0c0c0"/>
<rect x="123" y="679" width="1" height="7" fill="#c0c0c0"/>
<rect x="131" y="679" width="1" height="12" fill="#c0c0c0"/>
<rect x="139" y="679" width="1" height="16" fill="#c0c0c0"/>
<rect x="147" y="679" width="1" height="16" fill="#c0c0c0"/>
<rect x="155" y="679" width="1" height="15" fill="#c0c0c0"/>
<rect x="163" y="679" width="1" height="14" fill="#c0c0c0"/>
<rect x="171" y="679" width="1" height="15" fill="#c0c0c0"/>
<rect x="179" y="679" width="1" height="16" fill="#c0c0c0"/>
<rect x="187" y="679" width="1" height="13" fill="#c0c0c0"/>
<rect x="195" y="679" width="1" height="7" fill="#c0c0c0"/>
<rect x="203" y="679" width="1" height="4" fill="#c0c0c0"/>
<rect x="211" y="679" width="1" height="7" fill="#c0c0c0"/>
<rect x="219" y="679" width="1" height="10" fill="#c0c0c0"/>
<rect x="227" y="679" width="1" height="12" fill="#c0c0c0"/>
<rect x="235" y="679" width="1" height="15" fill="#c0c0c0"/>
<rect x="243" y="679" width="1" height="17" fill="#c0c0c0"/>
<rect x="251" y="679" width="1" height="19" fill="#c0c0c0"/>
<rect x="259" y="679" width="1" height="17" fill="#c0c0c0"/>
<rect x="267" y="679" width="1" height="17" fill="#c0c0c0"/>
<rect x="275" y="679" width="1" height="17" fill="#c0c0c0"/>
<rect x="283" y="679" width="1" height="18" fill="#c0c0c0"/>
<rect x="291" y="679" width="1" height="19" fill="#c0c0c0"/>
<rect x="299" y="679" width="1" height="24" fill="#c0c0c0"/>
<rect x="307" y="679" width="1" height="27" fill="#c0c0c0"/>
<rect x="315" y="679" width="1" height="31" fill="#c0c0c0"/>
<rect x="323" y="679" width="1" height="35" fill="#c0c0c0"/>
<rect x="331" y="679" width="1" height="37" fill="#c0c0c0"/>
<rect x="339" y="679" width="1" height="38" fill="#c0c0c0"/>
<rect x="347" y="679" width="1" height="39" fill="#c0c0c0"/>
<rect x="355" y="679" width="1" height="38" fill="#c0c0c0"/>
<rect x="363" y="679" width="1" height="34" fill="#c0c0c0"/>
<rect x="371" y="679" width="1" height="31" fill="#c0c0c0"/>
<rect x="379" y="679" width="1" height="31" fill="#c0c0c0"/>
<rect x="387" y="679" width="1" height="32" fill="#c0c0c0"/>
<rect x="395" y="679" width="1" height="31" fill="#c0c0c0"/>
<rect x="403" y="679" width="1" height="36" fill="#c0c0c0"/>
<rect x="411" y="679" width="1" height="39" fill="#c0c0c0"/>
<rect x="419" y="679" width="1" height="42" fill="#c0c0c0"/>
<rect x="427" y="679" width="1" height="42" fill="#c0c0c0"/>
<rect x="435" y="679" width="1" height="38" fill="#c0c0c0"/>
<rect x="443" y="679" width="1" height="36" fill="#c0c0c0"/>
<rect x="451" y="679" width="1" height="40" fill="#c0c0c0"/>
<rect x="459" y="679" width="1" height="43" fill="#c0c0c0"/>
<rect x="467" y="679" width="1" height="47" fill="#c0c0c0"/>
<rect x="475" y="679" width="1" height="55" fill="#c0c0c0"/>
<rect x="483" y="679" width="1" height="60" fill="#c0c0c0"/>
<rect x="491" y="679" width="1" height="65" fill="#c0c0c0"/>
<rect x="499" y="679" width="1" height="65" fill="#c0c0c0"/>
<rect x="507" y="679" width="1" height="60" fill="#c0c0c0"/>
<rect x="515" y="679" width="1" height="58" fill="#c0c0c0"/>
<rect x="523" y="679" width="1" height="53" fill="#c0c0c0"/>
<rect x="531" y="679" width="1" height="48" fill="#c0c0c0"/>
<rect x="539" y="679" width="1" height="44" fill="#c0c0c0"/>
<rect x="547" y="679" width="1" height="47" fill="#c0c0c0"/>
<rect x="555" y="679" width="1" height="49" fill="#c0c0c0"/>
<rect x="563" y="679" width="1" height="50" fill="#c0c0c0"/>
<rect x="571" y="679" width="1" height="49" fill="#c0c0c0"/>
<rect x="579" y="679" width="1" height="47" fill="#c0c0c0"/>
<rect x="587" y="679" width="1" height="44" fill="#c0c0c0"/>
<rect x="595" y="679" width="1" height="38" fill="#c0c0c0"/>
<rect x="603" y="679" width="1" height="38" fill="#c0c0c0"/>
<rect x="611" y="679" width="1" height="38" fill="#c0c0c0"/>
<rect x="619" y="679" width="1" height="36" fill="#c0c0c0"/>
<rect x="627" y="679" width="1" height="32" fill="#c0c0c0"/>
<rect x="635" y="679" width="1" height="24" fill="#c0c0c0"/>
<rect x="643" y="679" width="1" height="14" fill="#c0c0c0"/>
<rect x="651" y="679" width="1" height="4" fill="#c0c0c0"/>
<rect x="659" y="678" width="1" height="2" fill="#c0c0c0"/>
<rect x="667" y="673" width="1" height="7" fill="#c0c0c0"/>
<rect x="675" y="673" width="1" height="7" fill="#c0c0c0"/>
<rect x="683" y="678" width="1" height="2" fill="#c0c0c0"/>
<rect x="691" y="679" width="1" height="1" fill="#c0c0c0"/>
<rect x="699" y="679" width="1" height="4" fill="#c0c0c0"/>
<rect x="707" y="679" width="1" height="4" fill="#c0c0c0"/>
<rect x="715" y="679" width="1" height="1" fill="#c0c0c0"/>
<rect x="723" y="679" width="1" height="3" fill="#c0c0c0"/>
<rect x="731" y="679" width="1" height="6" fill="#c0c0c0"/>
<rect x="739" y="679" width="1" height="3" fill="#c0c0c0"/>
<rect x="747" y="677" width="1" height="3" fill="#c0c0c0"/>
<rect x="755" y="676" width="1" height="4" fill="#c0c0c0"/>
<rect x="763" y="672" width="1" height="8" fill="#c0c0c0"/>
<rect x="771" y="673" width="1" height="7" fill="#c0c0c0"/>
<rect x="779" y="679" width="1" height="2" fill="#c0c0c0"/>
<rect x="787" y="679" width="1" height="4" fill="#c0c0c0"/>
<rect x="795" y="679" width="1" height="10" fill="#c0c0c0"/>
<rect x="803" y="679" width="1" height="12" fill="#c0c0c0"/>
<rect x="811" y="679" width="1" height="14" fill="#c0c0c0"/>
<rect x="819" y="679" width="1" height="15" fill="#c0c0c0"/>
<rect x="827" y="679" width="1" height="19" fill="#c0c0c0"/>
<rect x="835" y="679" width="1" height="30" fill="#c0c0c0"/>
<rect x="843" y="679" width="1" height="40" fill="#c0c0c0"/>
<rect x="851" y="679" width="1" height="47" fill="#c0c0c0"/>
<rect x="859" y="679" width="1" height="48" fill="#c0c0c0"/>
<rect x="867" y="679" width="1" height="47" fill="#c0c0c0"/>
<rect x="875" y="679" width="1" height="48" fill="#c0c0c0"/>
<rect x="883" y="679" width="1" height="42" fill="#c0c0c0"/>
<rect x="891" y="679" width="1" height="36" fill="#c0c0c0"/>
<rect x="899" y="679" width="1" height="33" fill="#c0c0c0"/>
<rect x="907" y="679" width="1" height="31" fill="#c0c0c0"/>
<rect x="915" y="679" width="1" height="31" fill="#c0c0c0"/>
<rect x="923" y="679" width="1" height="21" fill="#c0c0c0"/>
<rect x="931" y="679" width="1" height="11" fill="#c0c0c0"/>
<rect x="939" y="679" width="1" height="4" fill="#c0c0c0"/>
<rect x="947" y="676" width="1" height="4" fill="#c0c0c0"/>
<rect x="955" y="672" width="1" height="8" fill="#c0c0c0"/>
<rect x="963" y="669" width="1" height="11" fill="#c0c0c0"/>
<rect x="971" y="663" width="1" height="17" fill="#c0c0c0"/>
<rect x="979" y="660" width="1" height="20" fill="#c0c0c0"/>
<rect x="987" y="655" width="1" height="25" fill="#c0c0c0"/>
<rect x="995" y="652" width="1" height="28" fill="#c0c0c0"/>
<rect x="1003" y="654" width="1" height="26" fill="#c0c0c0"/>
<rect x="1011" y="656" width="1" height="24" fill="#c0c0c0"/>
<rect x="1019" y="656" width="1" height="24" fill="#c0c0c0"/>
<rect x="1027" y="653" width="1" height="27" fill="#c0c0c0"/>
<rect x="1035" y="652" width="1" height="28" fill="#c0c0c0"/>
<rect x="1043" y="653" width="1" height="27" fill="#c0c0c0"/>
<rect x="1051" y="656" width="1" height="24" fill="#c0c0c0"/>
<rect x="1059" y="666" width="1" height="14" fill="#c0c0c0"/>
<rect x="1067" y="671" width="1" height="9" fill="#c0c0c0"/>
<rect x="1075" y="674" width="1" height="6" fill="#c0c0c0"/>
<rect x="1083" y="672" width="1" height="8" fill="#c0c0c0"/>
<rect x="1091" y="670" width="1" height="10" fill="#c0c0c0"/>
<rect x="1099" y="668" width="1" height="12" fill="#c0c0c0"/>
<rect x="1107" y="664" width="1" height="16" fill="#c0c0c0"/>
<rect x="1115" y="660" width="1" height="20" fill="#c0c0c0"/>
<rect x="1123" y="653" width="1" height="27" fill="#c0c0c0"/>
<rect x="1131" y="650" width="1" height="30" fill="#c0c0c0"/>
<rect x="1139" y="648" width="1" height="32" fill="#c0c0c0"/>
<rect x="1147" y="648" width="1" height="32" fill="#c0c0c0"/>
<rect x="1155" y="650" width="1" height="30" fill="#c0c0c0"/>
<rect x="1163" y="651" width="1" height="29" fill="#c0c0c0"/>
<rect x="1171" y="651" width="1" height="29" fill="#c0c0c0"/>
<rect x="1179" y="650" width="1" height="30" fill="#c0c0c0"/>
<rect x="1187" y="654" width="1" height="26" fill="#c0c0c0"/>
<rect x="1195" y="652" width="1" height="28" fill="#c0c0c0"/>
<rect x="1203" y="647" width="1" height="33" fill="#c0c0c0"/>
<rect x="1211" y="643" width="1" height="37" fill="#c0c0c0"/>
<rect x="1219" y="636" width="1" height="44" fill="#c0c0c0"/>
<rect x="1227" y="635" width="1" height="45" fill="#c0c0c0"/>
<rect x="1235" y="634" width="1" height="46" fill="#c0c0c0"/>
<rect x="1243" y="636" width="1" height="44" fill="#c0c0c0"/>
<rect x="1251" y="635" width="1" height="45" fill="#c0c0c0"/>
<rect x="1259" y="629" width="1" height="51" fill="#c0c0c0"/>
<rect x="1267" y="629" width="1" height="51" fill="#c0c0c0"/>
<rect x="1275" y="631" width="1" height="49" fill="#c0c0c0"/>
<rect x="1283" y="637" width="1" height="43" fill="#c0c0c0"/>
<rect x="1291" y="642" width="1" height="38" fill="#c0c0c0"/>
<rect x="1299" y="643" width="1" height="37" fill="#c0c0c0"/>
<rect x="1307" y="642" width="1" height="38" fill="#c0c0c0"/>
<rect x="1315" y="642" width="1" height="38" fill="#c0c0c0"/>
<rect x="1323" y="640" width="1" height="40" fill="#c0c0c0"/>
<rect x="1331" y="638" width="1" height="42" fill="#c0c0c0"/>
<rect x="1339" y="636" width="1" height="44" fill="#c0c0c0"/>
<rect x="1347" y="634" width="1" height="46" fill="#c0c0c0"/>
<rect x="1355" y="627" width="1" height="53" fill="#c0c0c0"/>
<rect x="1363" y="623" width="1" height="57" fill="#c0c0c0"/>
<rect x="1371" y="621" width="1" height="59" fill="#c0c0c0"/>
<rect x="1379" y="620" width="1" height="60" fill="#c0c0c0"/>
<rect x="1647" y="584" width="2" height="1" fill="#000"/>
<rect x="1647" y="679" width="2" height="1" fill="#000"/>
<rect x="1647" y="751" width="2" height="1" fill="#000"/>
</g>
<path d="M1 598h3v1h-3zM7 597h3v1h-3zM13 597h3v1h-3zM19 597h3v1h-3zM25 598h3v1h-3zM31 598h3v1h-3zM37 599h2v1h-2zM39 600h1v1h-1zM43 601h2v1h-2zM45 602h1v1h-1zM49 603h1v1h-1zM50 604h2v1h-2zM55 606h1v1h-1zM56 607h2v1h-2zM61 609h1v1h-1zM62 610h1v1h-1zM63 611h1v1h-1zM67 613h1v1h-1zM68 614h1v1h-1zM69 615h1v1h-1zM73 618h2v1h-2zM75 619h1v1h-1zM79 623h2v1h-2zM81 624h1v1h-1zM85 628h2v1h-2zM87 629h1v1h-1zM91 632h1v1h-1zM92 633h1v1h-1zM93 634h1v1h-1zM97 637h1v1h-1zM98 638h1v1h-1zM99 639h1v1h-1zM103 643h1v1h-1zM104 644h1v1h-1zM105 645h1v1h-1zM109 649h2v1h-2zM111 650h1v1h-1zM115 653h1v1h-1zM116 654h1v1h-1zM117 655h1v1h-1zM121 658h1v1h-1zM122 659h1v1h-1zM123 660h1v1h-1zM127 664h1v1h-1zM128 665h1v1h-1zM129 666h1v1h-1zM133 669h1v1h-1zM134 670h1v1h-1zM135 671h1v1h-1zM139 673h1v1h-1zM140 674h1v1h-1zM141 675h1v1h-1zM145 678h2v1h-2zM147 679h1v1h-1zM151 681h1v1h-1zM152 682h2v1h-2zM157 684h1v1h-1zM158 685h2v1h-2zM163 687h2v1h-2zM165 688h1v1h-1zM169 689h3v1h-3zM175 690h2v1h-2zM177 691h1v1h-1zM181 691h2v1h-2zM183 692h1v1h-1zM187 692h3v1h-3zM193 692h3v1h-3zM199 691h3v1h-3zM205 691h2v1h-2zM207 690h1v1h-1zM211 690h3v1h-3zM217 689h3v1h-3zM223 689h3v1h-3zM229 689h3v1h-3zM235 689h3v1h-3zM241 689h3v1h-3zM247 690h3v1h-3zM253 690h3v1h-3zM259 690h3v1h-3zM265 691h3v1h-3zM271 692h3v1h-3zM277 692h2v1h-2zM279 693h1v1h-1zM283 693h2v1h-2zM285 694h1v1h-1zM289 695h3v1h-3zM295 696h3v1h-3zM301 696h2v1h-2zM303 697h1v1h-1zM307 697h2v1h-2zM309 698h1v1h-1zM313 699h3v1h-3zM319 700h2v1h-2zM321 701h1v1h-1zM325 702h3v1h-3zM331 703h2v1h-2zM333 704h1v1h-1zM337 705h3v1h-3zM343 706h2v1h-2zM345 707h1v1h-1zM349 708h2v1h-2zM351 709h1v1h-1zM355 710h2v1h-2zM357 711h1v1h-1zM361 712h3v1h-3zM367 712h3v1h-3zM373 712h2v1h-2zM375 713h1v1h-1zM379 713h3v1h-3zM385 713h3v1h-3zM391 713h3v1h-3zM397 713h3v1h-3zM403 713h3v1h-3zM409 713h3v1h-3zM415 713h3v1h-3zM421 713h2v1h-2zM423 714h1v1h-1zM427 714h3v1h-3zM433 714h3v1h-3zM439 714h3v1h-3zM445 714h2v1h-2zM447 715h1v1h-1zM451 715h2v1h-2zM453 716h1v1h-1zM457 717h3v1h-3zM463 718h3v1h-3zM469 719h3v1h-3zM475 720h2v1h-2zM477 721h1v1h-1zM481 722h1v1h-1zM482 723h2v1h-2zM487 724h2v1h-2zM489 725h1v1h-1zM493 726h2v1h-2zM495 727h1v1h-1zM499 728h2v1h-2zM501 729h1v1h-1zM505 730h1v1h-1zM506 731h2v1h-2zM511 732h2v1h-2zM513 733h1v1h-1zM517 734h3v1h-3zM523 735h3v1h-3zM529 735h3v1h-3zM535 735h3v1h-3zM541 735h2v1h-2zM543 734h1v1h-1zM547 734h3v1h-3zM553 733h3v1h-3zM559 732h2v1h-2zM561 731h1v1h-1zM565 730h3v1h-3zM571 729h3v1h-3zM577 728h3v1h-3zM583 727h2v1h-2zM585 726h1v1h-1zM589 725h3v1h-3zM595 724h3v1h-3zM601 723h3v1h-3zM607 723h3v1h-3zM613 722h3v1h-3zM619 721h2v1h-2zM621 720h1v1h-1zM625 719h3v1h-3zM631 718h2v1h-2zM633 717h1v1h-1zM637 716h1v1h-1zM638 715h1v1h-1zM639 714h1v1h-1zM643 712h1v1h-1zM644 711h2v1h-2zM649 709h1v1h-1zM650 708h2v1h-2zM655 705h2v1h-2zM657 704h1v1h-1zM661 702h1v1h-1zM662 701h1v1h-1zM663 700h1v1h-1zM667 698h1v1h-1zM668 697h2v1h-2zM673 694h2v1h-2zM675 693h1v1h-1zM679 690h2v1h-2zM681 689h1v1h-1zM685 687h2v1h-2zM687 686h1v1h-1zM691 685h2v1h-2zM693 684h1v1h-1zM697 683h1v1h-1zM698 682h2v1h-2zM703 681h2v1h-2zM705 680h1v1h-1zM709 680h2v1h-2zM711 679h1v1h-1zM715 679h3v1h-3zM721 678h3v1h-3zM727 679h3v1h-3zM733 679h2v1h-2zM735 680h1v1h-1zM739 680h3v1h-3zM745 681h3v1h-3zM751 680h3v1h-3zM757 680h2v1h-2zM759 679h1v1h-1zM763 679h3v1h-3zM769 678h3v1h-3zM775 677h3v1h-3zM781 677h2v1h-2zM783 678h1v1h-1zM787 678h3v1h-3zM793 678h3v1h-3zM799 679h3v1h-3zM805 680h3v1h-3zM811 681h3v1h-3zM817 682h3v1h-3zM823 683h2v1h-2zM825 684h1v1h-1zM829 685h1v1h-1zM830 686h1v1h-1zM831 687h1v1h-1zM835 689h1v1h-1zM836 690h2v1h-2zM841 693h2v1h-2zM843 694h1v1h-1zM847 697h1v1h-1zM848 698h1v1h-1zM849 699h1v1h-1zM853 701h1v1h-1zM854 702h2v1h-2zM859 704h1v1h-1zM860 705h2v1h-2zM865 707h1v1h-1zM866 708h2v1h-2zM871 710h1v1h-1zM872 711h2v1h-2zM877 713h2v1h-2zM879 714h1v1h-1zM883 715h2v1h-2zM885 716h1v1h-1zM889 717h3v1h-3zM895 718h3v1h-3zM901 718h2v1h-2zM903 719h1v1h-1zM907 719h2v1h-2zM909 718h1v1h-1zM913 717h3v1h-3zM919 716h2v1h-2zM921 715h1v1h-1zM925 714h1v1h-1zM926 713h2v1h-2zM931 711h1v1h-1zM932 710h2v1h-2zM937 707h2v1h-2zM939 706h1v1h-1zM943 703h2v1h-2zM945 702h1v1h-1zM949 700h1v1h-1zM950 699h1v1h-1zM951 698h1v1h-1zM955 696h1v1h-1zM956 695h1v1h-1zM957 694h1v1h-1zM961 691h2v1h-2zM963 690h1v1h-1zM967 687h1v1h-1zM968 686h1v1h-1zM969 685h1v1h-1zM973 683h1v1h-1zM974 682h1v1h-1zM975 681h1v1h-1zM979 679h1v1h-1zM980 678h1v1h-1zM981 677h1v1h-1zM985 674h2v1h-2zM987 673h1v1h-1zM991 670h2v1h-2zM993 669h1v1h-1zM997 667h1v1h-1zM998 666h2v1h-2zM1003 664h2v1h-2zM1005 663h1v1h-1zM1009 662h1v1h-1zM1010 661h2v1h-2zM1015 659h3v1h-3zM1021 657h3v1h-3zM1027 656h2v1h-2zM1029 655h1v1h-1zM1033 654h3v1h-3zM1039 653h3v1h-3zM1045 653h3v1h-3zM1051 653h3v1h-3zM1057 654h3v1h-3zM1063 655h2v1h-2zM1065 656h1v1h-1zM1069 657h3v1h-3zM1075 658h2v1h-2zM1077 659h1v1h-1zM1081 660h3v1h-3zM1087 661h2v1h-2zM1089 662h1v1h-1zM1093 662h2v1h-2zM1095 663h1v1h-1zM1099 663h3v1h-3zM1105 664h3v1h-3zM1111 665h2v1h-2zM1113 666h1v1h-1zM1117 666h2v1h-2zM1119 665h1v1h-1zM1123 665h2v1h-2zM1125 664h1v1h-1zM1129 663h3v1h-3zM1135 662h2v1h-2zM1137 661h1v1h-1zM1141 660h2v1h-2zM1143 659h1v1h-1zM1147 658h2v1h-2zM1149 657h1v1h-1zM1153 656h3v1h-3zM1159 655h2v1h-2zM1161 654h1v1h-1zM1165 653h3v1h-3zM1171 652h2v1h-2zM1173 651h1v1h-1zM1177 650h3v1h-3zM1183 650h3v1h-3zM1189 650h3v1h-3zM1195 650h3v1h-3zM1201 649h3v1h-3zM1207 649h3v1h-3zM1213 648h3v1h-3zM1219 647h3v1h-3zM1225 646h3v1h-3zM1231 645h2v1h-2zM1233 644h1v1h-1zM1237 643h3v1h-3zM1243 642h2v1h-2zM1245 641h1v1h-1zM1249 640h3v1h-3zM1255 639h2v1h-2zM1257 638h1v1h-1zM1261 637h2v1h-2zM1263 636h1v1h-1zM1267 635h2v1h-2zM1269 634h1v1h-1zM1273 633h3v1h-3zM1279 633h3v1h-3zM1285 633h3v1h-3zM1291 633h3v1h-3zM1297 634h3v1h-3zM1303 635h3v1h-3zM1309 635h2v1h-2zM1311 636h1v1h-1zM1315 636h3v1h-3zM1321 636h3v1h-3zM1327 637h3v1h-3zM1333 637h2v1h-2zM1335 638h1v1h-1zM1339 638h3v1h-3zM1345 638h3v1h-3zM1351 637h2v1h-2zM1353 636h1v1h-1zM1357 635h3v1h-3zM1363 634h2v1h-2zM1365 633h1v1h-1zM1369 632h3v1h-3zM1375 631h3v1h-3z" fill="#ff0000" shape-rendering="crispEdges"/>
<line x1="1290.5" y1="646.8" x2="1389.59" y2="622.87" stroke="#ff0000" stroke-width="2.9" shape-rendering="crispEdges"/>
<polygon points="1399.8,620.4 1389.84,628.15 1387.4,618.05" fill="#ff0000" shape-rendering="crispEdges"/>
<text x="1649.6" y="592.6" font-size="10" fill="#000" stroke="#000" stroke-width="0.1" textLength="38" lengthAdjust="spacingAndGlyphs">0.004109</text>
<text x="1649.6" y="682.6" font-size="10" fill="#000" stroke="#000" stroke-width="0.1" textLength="18" lengthAdjust="spacingAndGlyphs">0.00</text>
<text x="1649.6" y="748.6" font-size="10" fill="#000" stroke="#000" stroke-width="0.1" textLength="41" lengthAdjust="spacingAndGlyphs">-0.003097</text>
<text x="-8" y="595.2" font-size="10" fill="#000" stroke="#000" stroke-width="0.1" textLength="147" lengthAdjust="spacingAndGlyphs">MACD(12,26,9) 0.002575 0.002128</text>
<g shape-rendering="crispEdges">
<line x1="0" y1="790.5" x2="1646" y2="790.5" stroke="#c0c0c0" stroke-width="1" stroke-dasharray="3 3"/>
<line x1="0" y1="841.5" x2="1646" y2="841.5" stroke="#c0c0c0" stroke-width="1" stroke-dasharray="3 3"/>
<line x1="0" y1="902.5" x2="1646" y2="902.5" stroke="#c0c0c0" stroke-width="1" stroke-dasharray="3 3"/>
<rect x="1647" y="756" width="2" height="1" fill="#000"/>
</g>
<path d="M0 806h1v1h-1zM1 807h2v1h-2zM3 808h2v1h-2zM5 807h2v1h-2zM7 806h3v1h-3zM10 805h2v1h-2zM12 806h2v1h-2zM14 807h2v1h-2zM16 808h2v1h-2zM18 809h19v1h-19zM37 808h4v1h-4zM41 807h3v1h-3zM44 808h1v2h-1zM45 810h1v2h-1zM46 812h1v2h-1zM47 814h1v2h-1zM48 816h1v2h-1zM49 818h1v2h-1zM50 820h1v2h-1zM51 822h1v3h-1zM52 825h1v3h-1zM53 828h1v3h-1zM54 831h1v3h-1zM55 834h1v2h-1zM56 836h1v3h-1zM57 839h1v3h-1zM58 842h1v3h-1zM59 845h1v1h-1zM59 846h4v1h-4zM63 847h5v1h-5zM68 848h2v1h-2zM70 849h1v1h-1zM71 850h2v1h-2zM73 851h2v1h-2zM75 852h4v1h-4zM79 851h6v1h-6zM85 850h4v1h-4zM89 849h3v1h-3zM92 850h1v2h-1zM93 852h1v2h-1zM94 854h1v2h-1zM95 856h1v2h-1zM96 858h1v2h-1zM97 860h1v2h-1zM98 862h1v2h-1zM99 864h1v1h-1zM100 862h1v2h-1zM101 861h1v1h-1zM102 860h1v1h-1zM103 858h1v2h-1zM104 857h1v1h-1zM105 856h1v1h-1zM106 854h1v2h-1zM107 853h1v1h-1zM108 854h2v1h-2zM110 855h1v1h-1zM111 856h2v1h-2zM113 857h2v1h-2zM115 858h9v1h-9zM124 859h2v1h-2zM126 860h2v1h-2zM128 861h2v1h-2zM130 862h3v1h-3zM133 863h2v1h-2zM135 864h3v1h-3zM138 865h2v1h-2zM139 864h1v1h-1zM140 862h1v2h-1zM141 860h1v2h-1zM142 858h1v2h-1zM143 856h1v2h-1zM144 854h1v2h-1zM145 852h1v2h-1zM146 850h1v2h-1zM147 848h1v2h-1zM148 847h2v1h-2zM150 846h1v1h-1zM151 845h2v1h-2zM153 844h2v1h-2zM155 843h4v1h-4zM159 844h5v1h-5zM164 845h1v1h-1zM165 846h1v1h-1zM166 847h1v1h-1zM167 848h1v2h-1zM168 850h1v1h-1zM169 851h1v1h-1zM170 852h1v1h-1zM171 853h9v1h-9zM180 851h1v2h-1zM181 850h1v1h-1zM182 848h1v2h-1zM183 847h1v1h-1zM184 845h1v2h-1zM185 844h1v1h-1zM186 842h1v2h-1zM187 841h1v1h-1zM188 840h1v1h-1zM189 838h1v2h-1zM190 837h1v1h-1zM191 836h1v1h-1zM192 835h1v1h-1zM193 833h1v2h-1zM194 832h1v1h-1zM195 831h9v1h-9zM203 832h1v1h-1zM204 833h1v3h-1zM205 836h1v2h-1zM206 838h1v3h-1zM207 841h1v3h-1zM208 844h1v3h-1zM209 847h1v2h-1zM210 849h1v3h-1zM211 852h1v1h-1zM211 853h4v1h-4zM215 854h8v1h-8zM223 853h5v1h-5zM228 854h1v1h-1zM229 855h2v1h-2zM231 856h1v1h-1zM232 857h1v1h-1zM233 858h2v1h-2zM235 859h2v1h-2zM237 858h2v1h-2zM239 857h3v1h-3zM242 856h2v1h-2zM244 857h2v1h-2zM246 858h2v1h-2zM248 859h2v1h-2zM250 860h2v1h-2zM252 858h1v2h-1zM253 856h1v2h-1zM254 854h1v2h-1zM255 852h1v2h-1zM256 850h1v2h-1zM257 848h1v2h-1zM258 846h1v2h-1zM259 845h2v1h-2zM261 846h2v1h-2zM263 847h3v1h-3zM266 848h10v1h-10zM276 849h1v1h-1zM277 850h1v1h-1zM278 851h1v1h-1zM279 852h1v2h-1zM280 854h1v1h-1zM281 855h1v1h-1zM282 856h1v1h-1zM283 857h4v1h-4zM287 858h5v1h-5zM292 859h1v2h-1zM293 861h1v1h-1zM294 862h1v1h-1zM295 863h1v2h-1zM296 865h1v1h-1zM297 866h1v1h-1zM298 867h1v2h-1zM299 869h1v1h-1zM300 868h2v1h-2zM302 867h2v1h-2zM304 866h2v1h-2zM306 865h2v1h-2zM308 866h1v1h-1zM309 867h1v1h-1zM310 868h1v1h-1zM311 869h2v1h-2zM313 870h1v1h-1zM314 871h1v1h-1zM315 872h2v1h-2zM317 873h4v1h-4zM321 874h3v1h-3zM324 873h2v1h-2zM326 872h1v1h-1zM327 871h2v1h-2zM329 870h2v1h-2zM331 869h10v1h-10zM341 870h4v1h-4zM345 871h3v1h-3zM348 870h1v1h-1zM349 869h2v1h-2zM351 868h1v1h-1zM352 867h1v1h-1zM353 866h2v1h-2zM355 865h1v1h-1zM356 864h1v1h-1zM357 863h1v1h-1zM358 862h1v1h-1zM359 860h1v2h-1zM360 859h1v1h-1zM361 858h1v1h-1zM362 857h1v1h-1zM363 856h1v1h-1zM364 855h1v1h-1zM365 854h1v1h-1zM366 853h1v1h-1zM367 851h1v2h-1zM368 850h1v1h-1zM369 849h1v1h-1zM370 848h1v1h-1zM371 847h1v1h-1zM372 848h1v2h-1zM373 850h1v1h-1zM374 851h1v2h-1zM375 853h1v1h-1zM376 854h1v2h-1zM377 856h1v1h-1zM378 857h1v2h-1zM379 859h1v1h-1zM380 860h1v1h-1zM381 861h2v1h-2zM383 862h1v1h-1zM384 863h1v1h-1zM385 864h2v1h-2zM387 865h1v1h-1zM388 864h1v1h-1zM389 863h2v1h-2zM391 862h1v1h-1zM392 861h1v1h-1zM393 860h3v1h-3zM395 859h1v1h-1zM396 861h1v2h-1zM397 863h1v2h-1zM398 865h1v2h-1zM399 867h1v2h-1zM400 869h1v2h-1zM401 871h1v2h-1zM402 873h1v2h-1zM403 876h1v1h-1zM403 875h2v1h-2zM405 874h1v1h-1zM406 873h1v1h-1zM407 872h2v1h-2zM409 871h1v1h-1zM410 870h1v1h-1zM411 869h4v1h-4zM415 870h6v1h-6zM421 869h2v1h-2zM423 868h3v1h-3zM426 867h2v1h-2zM427 866h1v1h-1zM428 864h1v2h-1zM429 862h1v2h-1zM430 860h1v2h-1zM431 857h1v3h-1zM432 855h1v2h-1zM433 853h1v2h-1zM434 851h1v2h-1zM435 849h1v1h-1zM435 850h3v1h-3zM438 851h1v1h-1zM439 852h2v1h-2zM441 853h2v1h-2zM443 854h1v1h-1zM444 855h1v2h-1zM445 857h1v2h-1zM446 859h1v2h-1zM447 861h1v2h-1zM448 863h1v2h-1zM449 865h1v2h-1zM450 867h1v2h-1zM451 869h2v1h-2zM453 870h4v1h-4zM457 871h4v1h-4zM461 872h2v1h-2zM463 873h3v1h-3zM466 874h2v1h-2zM468 875h1v1h-1zM469 876h1v2h-1zM470 878h1v1h-1zM471 879h1v1h-1zM472 880h1v1h-1zM473 881h1v2h-1zM474 883h1v1h-1zM475 884h1v1h-1zM476 883h2v1h-2zM478 882h2v1h-2zM480 881h2v1h-2zM482 880h2v1h-2zM484 881h2v1h-2zM486 882h2v1h-2zM488 883h2v1h-2zM490 884h2v1h-2zM491 883h1v1h-1zM492 881h1v2h-1zM493 879h1v2h-1zM494 877h1v2h-1zM495 875h1v2h-1zM496 873h1v2h-1zM497 871h1v2h-1zM498 869h1v2h-1zM499 867h1v2h-1zM500 866h1v1h-1zM501 864h1v2h-1zM502 863h1v1h-1zM503 862h1v1h-1zM504 861h1v1h-1zM505 859h1v2h-1zM506 858h1v1h-1zM507 857h4v1h-4zM511 858h5v1h-5zM516 857h2v1h-2zM518 856h1v1h-1zM519 855h2v1h-2zM521 854h2v1h-2zM523 853h4v1h-4zM527 852h6v1h-6zM533 853h2v1h-2zM535 854h3v1h-3zM538 855h2v1h-2zM540 856h1v2h-1zM541 858h1v1h-1zM542 859h1v1h-1zM543 860h1v2h-1zM544 862h1v1h-1zM545 863h1v1h-1zM546 864h1v2h-1zM547 866h2v1h-2zM549 867h4v1h-4zM553 868h4v1h-4zM557 869h4v1h-4zM561 870h3v1h-3zM564 869h1v1h-1zM565 868h1v1h-1zM566 867h1v1h-1zM567 866h1v1h-1zM568 865h1v1h-1zM569 864h1v1h-1zM570 863h1v1h-1zM571 862h2v1h-2zM573 861h4v1h-4zM577 860h3v1h-3zM580 859h1v1h-1zM581 858h1v1h-1zM582 857h1v1h-1zM583 856h2v1h-2zM585 855h1v1h-1zM586 854h1v1h-1zM587 853h1v1h-1zM588 852h1v1h-1zM589 851h1v1h-1zM590 850h1v1h-1zM591 849h2v1h-2zM593 848h1v1h-1zM594 847h1v1h-1zM595 846h1v1h-1zM596 847h1v2h-1zM597 849h1v1h-1zM598 850h1v1h-1zM599 851h1v2h-1zM600 853h1v1h-1zM601 854h1v1h-1zM602 855h1v2h-1zM603 857h1v1h-1zM604 858h2v1h-2zM606 859h2v1h-2zM608 860h2v1h-2zM610 861h2v1h-2zM612 860h2v1h-2zM614 859h2v1h-2zM616 858h2v1h-2zM618 857h2v1h-2zM620 855h1v2h-1zM621 853h1v2h-1zM622 851h1v2h-1zM623 849h1v2h-1zM624 847h1v2h-1zM625 845h1v2h-1zM626 843h1v2h-1zM627 841h1v2h-1zM628 840h1v1h-1zM629 839h1v1h-1zM630 838h1v1h-1zM631 837h1v1h-1zM632 836h1v1h-1zM633 835h1v1h-1zM634 834h1v1h-1zM635 833h1v1h-1zM636 832h1v1h-1zM637 831h1v1h-1zM638 830h1v1h-1zM639 829h1v1h-1zM640 828h1v1h-1zM641 827h1v1h-1zM642 826h1v1h-1zM643 825h2v1h-2zM645 824h2v1h-2zM647 823h3v1h-3zM650 822h2v1h-2zM652 823h2v1h-2zM654 824h2v1h-2zM656 825h2v1h-2zM658 826h5v1h-5zM663 825h5v1h-5zM668 826h1v2h-1zM669 828h1v2h-1zM670 830h1v1h-1zM671 831h1v2h-1zM672 833h1v1h-1zM673 834h1v2h-1zM674 836h1v2h-1zM675 838h1v1h-1zM676 839h1v2h-1zM677 841h1v2h-1zM678 843h1v2h-1zM679 845h1v2h-1zM680 847h1v2h-1zM681 849h1v2h-1zM682 851h1v2h-1zM683 853h1v1h-1zM684 852h2v1h-2zM686 851h2v1h-2zM688 850h2v1h-2zM690 849h10v1h-10zM700 848h2v1h-2zM702 847h2v1h-2zM704 846h2v1h-2zM706 845h2v1h-2zM708 844h1v1h-1zM709 843h1v1h-1zM710 842h1v1h-1zM711 841h1v1h-1zM712 840h1v1h-1zM713 839h1v1h-1zM714 838h1v1h-1zM715 837h1v1h-1zM716 838h1v1h-1zM717 839h1v1h-1zM718 840h1v1h-1zM719 841h1v1h-1zM720 842h1v1h-1zM721 843h1v1h-1zM722 844h1v1h-1zM723 845h1v1h-1zM724 846h2v1h-2zM726 847h1v1h-1zM727 848h2v1h-2zM729 849h2v1h-2zM731 850h1v1h-1zM732 848h1v2h-1zM733 846h1v2h-1zM734 844h1v2h-1zM735 842h1v2h-1zM736 840h1v2h-1zM737 838h1v2h-1zM738 836h1v2h-1zM739 835h1v1h-1zM739 834h2v1h-2zM741 833h2v1h-2zM743 832h3v1h-3zM746 831h2v1h-2zM748 832h1v1h-1zM749 833h2v1h-2zM751 834h1v1h-1zM752 835h1v1h-1zM753 836h2v1h-2zM755 837h1v1h-1zM756 836h1v1h-1zM757 835h1v1h-1zM758 834h1v1h-1zM759 833h1v1h-1zM760 832h1v1h-1zM761 831h1v1h-1zM762 830h1v1h-1zM763 829h1v1h-1zM764 830h1v2h-1zM765 832h1v1h-1zM766 833h1v2h-1zM767 835h1v1h-1zM768 836h1v2h-1zM769 838h1v1h-1zM770 839h1v2h-1zM771 841h1v1h-1zM772 842h1v1h-1zM773 843h1v1h-1zM774 844h1v1h-1zM775 845h1v2h-1zM776 847h1v1h-1zM777 848h1v1h-1zM778 849h1v1h-1zM779 850h1v1h-1zM780 851h1v1h-1zM781 852h1v1h-1zM782 853h1v1h-1zM783 854h2v1h-2zM785 855h1v1h-1zM786 856h1v1h-1zM787 857h2v1h-2zM789 856h4v1h-4zM793 855h4v1h-4zM797 854h4v1h-4zM801 853h4v1h-4zM805 852h2v1h-2zM807 851h3v1h-3zM810 850h10v1h-10zM820 851h1v1h-1zM821 852h1v1h-1zM822 853h1v1h-1zM823 854h1v1h-1zM824 855h1v1h-1zM825 856h1v1h-1zM826 857h1v1h-1zM827 858h1v1h-1zM828 859h1v2h-1zM829 861h1v2h-1zM830 863h1v2h-1zM831 865h1v2h-1zM832 867h1v2h-1zM833 869h1v2h-1zM834 871h1v2h-1zM835 873h1v1h-1zM836 874h2v1h-2zM838 875h2v1h-2zM840 876h2v1h-2zM842 877h3v1h-3zM845 876h2v1h-2zM847 875h3v1h-3zM850 874h2v1h-2zM852 872h1v2h-1zM853 870h1v2h-1zM854 868h1v2h-1zM855 866h1v2h-1zM856 864h1v2h-1zM857 862h1v2h-1zM858 860h1v2h-1zM859 859h2v1h-2zM861 858h2v1h-2zM863 857h3v1h-3zM866 856h2v1h-2zM868 857h1v1h-1zM869 858h2v1h-2zM871 859h1v1h-1zM872 860h1v1h-1zM873 861h3v1h-3zM875 862h1v1h-1zM876 859h1v2h-1zM877 857h1v2h-1zM878 855h1v2h-1zM879 853h1v2h-1zM880 851h1v2h-1zM881 849h1v2h-1zM882 847h1v2h-1zM883 846h1v1h-1zM883 845h4v1h-4zM887 846h6v1h-6zM893 845h4v1h-4zM897 844h3v1h-3zM900 845h2v1h-2zM902 846h1v1h-1zM903 847h2v1h-2zM905 848h2v1h-2zM907 849h1v1h-1zM908 850h1v1h-1zM909 851h2v1h-2zM911 852h1v1h-1zM912 853h1v1h-1zM913 854h3v1h-3zM915 855h1v1h-1zM916 851h1v3h-1zM917 848h1v3h-1zM918 845h1v3h-1zM919 841h1v4h-1zM920 838h1v3h-1zM921 835h1v3h-1zM922 832h1v3h-1zM923 831h1v1h-1zM923 830h2v1h-2zM925 829h2v1h-2zM927 828h3v1h-3zM930 827h3v1h-3zM933 828h4v1h-4zM937 829h4v1h-4zM941 828h2v1h-2zM943 827h3v1h-3zM946 826h2v1h-2zM948 827h1v1h-1zM949 828h2v1h-2zM951 829h1v1h-1zM952 830h1v1h-1zM953 831h2v1h-2zM955 832h4v1h-4zM959 831h5v1h-5zM964 830h1v1h-1zM965 829h1v1h-1zM966 828h1v1h-1zM967 826h1v2h-1zM968 825h1v1h-1zM969 824h1v1h-1zM970 823h1v1h-1zM971 822h2v1h-2zM973 823h2v1h-2zM975 824h3v1h-3zM978 825h3v1h-3zM981 824h4v1h-4zM985 823h11v1h-11zM996 824h1v2h-1zM997 826h1v1h-1zM998 827h1v2h-1zM999 829h1v1h-1zM1000 830h1v2h-1zM1001 832h1v1h-1zM1002 833h1v2h-1zM1003 835h9v1h-9zM1012 834h2v1h-2zM1014 833h2v1h-2zM1016 832h2v1h-2zM1018 831h2v1h-2zM1020 830h1v1h-1zM1021 829h1v1h-1zM1022 828h1v1h-1zM1023 827h1v1h-1zM1024 826h1v1h-1zM1025 825h1v1h-1zM1026 824h1v1h-1zM1027 823h1v1h-1zM1028 824h2v1h-2zM1030 825h1v1h-1zM1031 826h2v1h-2zM1033 827h2v1h-2zM1035 828h9v1h-9zM1044 829h1v2h-1zM1045 831h1v1h-1zM1046 832h1v2h-1zM1047 834h1v1h-1zM1048 835h1v2h-1zM1049 837h1v1h-1zM1050 838h1v2h-1zM1051 840h1v1h-1zM1052 841h1v2h-1zM1053 843h1v2h-1zM1054 845h1v2h-1zM1055 847h1v2h-1zM1056 849h1v2h-1zM1057 851h1v2h-1zM1058 853h1v2h-1zM1059 856h1v1h-1zM1059 855h2v1h-2zM1061 854h2v1h-2zM1063 853h1v1h-1zM1064 852h1v1h-1zM1065 851h2v1h-2zM1067 850h1v1h-1zM1068 849h1v1h-1zM1069 848h2v1h-2zM1071 847h1v1h-1zM1072 846h1v1h-1zM1073 845h2v1h-2zM1075 844h1v1h-1zM1076 843h1v1h-1zM1077 842h1v1h-1zM1078 841h1v1h-1zM1079 839h1v2h-1zM1080 838h1v1h-1zM1081 837h1v1h-1zM1082 836h1v1h-1zM1083 835h2v1h-2zM1085 834h2v1h-2zM1087 833h3v1h-3zM1090 832h5v1h-5zM1095 831h5v1h-5zM1100 830h2v1h-2zM1102 829h2v1h-2zM1104 828h2v1h-2zM1106 827h2v1h-2zM1108 826h2v1h-2zM1110 825h1v1h-1zM1111 824h2v1h-2zM1113 823h2v1h-2zM1115 822h1v1h-1zM1116 821h1v1h-1zM1117 820h2v1h-2zM1119 819h1v1h-1zM1120 818h1v1h-1zM1121 817h2v1h-2zM1123 816h1v1h-1zM1124 817h2v1h-2zM1126 818h1v1h-1zM1127 819h2v1h-2zM1129 820h2v1h-2zM1131 821h4v1h-4zM1135 820h5v1h-5zM1140 821h1v1h-1zM1141 822h1v1h-1zM1142 823h1v1h-1zM1143 824h2v1h-2zM1145 825h1v1h-1zM1146 826h1v1h-1zM1147 827h1v1h-1zM1148 828h1v1h-1zM1149 829h1v1h-1zM1150 830h1v1h-1zM1151 831h2v1h-2zM1153 832h1v1h-1zM1154 833h1v1h-1zM1155 834h1v1h-1zM1156 833h2v1h-2zM1158 832h1v1h-1zM1159 831h2v1h-2zM1161 830h2v1h-2zM1163 829h2v1h-2zM1165 828h2v1h-2zM1167 827h3v1h-3zM1170 826h5v1h-5zM1175 825h5v1h-5zM1180 826h1v2h-1zM1181 828h1v1h-1zM1182 829h1v2h-1zM1183 831h1v1h-1zM1184 832h1v2h-1zM1185 834h1v1h-1zM1186 835h1v2h-1zM1187 837h1v1h-1zM1188 835h1v2h-1zM1189 834h1v1h-1zM1190 832h1v2h-1zM1191 831h1v1h-1zM1192 829h1v2h-1zM1193 828h1v1h-1zM1194 826h1v2h-1zM1195 825h1v1h-1zM1196 824h1v1h-1zM1197 823h1v1h-1zM1198 822h1v1h-1zM1199 820h1v2h-1zM1200 819h1v1h-1zM1201 818h1v1h-1zM1202 817h1v1h-1zM1203 816h9v1h-9zM1212 815h1v1h-1zM1213 814h1v1h-1zM1214 813h1v1h-1zM1215 812h1v1h-1zM1216 811h1v1h-1zM1217 810h1v1h-1zM1218 809h1v1h-1zM1219 808h1v1h-1zM1220 809h1v2h-1zM1221 811h1v2h-1zM1222 813h1v2h-1zM1223 815h1v2h-1zM1224 817h1v2h-1zM1225 819h1v2h-1zM1226 821h1v2h-1zM1227 823h2v1h-2zM1229 822h4v1h-4zM1233 821h3v1h-3zM1236 822h1v1h-1zM1237 823h1v1h-1zM1238 824h1v1h-1zM1239 825h2v1h-2zM1241 826h1v1h-1zM1242 827h1v1h-1zM1243 828h1v1h-1zM1244 827h1v1h-1zM1245 826h1v1h-1zM1246 825h1v1h-1zM1247 824h2v1h-2zM1249 823h1v1h-1zM1250 822h1v1h-1zM1251 821h1v1h-1zM1252 820h1v1h-1zM1253 818h1v2h-1zM1254 817h1v1h-1zM1255 816h1v1h-1zM1256 815h1v1h-1zM1257 813h1v2h-1zM1258 812h1v1h-1zM1259 811h1v1h-1zM1260 812h1v2h-1zM1261 814h1v1h-1zM1262 815h1v1h-1zM1263 816h1v2h-1zM1264 818h1v1h-1zM1265 819h1v1h-1zM1266 820h1v2h-1zM1267 822h1v1h-1zM1268 823h2v1h-2zM1270 824h1v1h-1zM1271 825h2v1h-2zM1273 826h2v1h-2zM1275 827h1v1h-1zM1276 828h1v2h-1zM1277 830h1v1h-1zM1278 831h1v1h-1zM1279 832h1v2h-1zM1280 834h1v1h-1zM1281 835h1v1h-1zM1282 836h1v2h-1zM1283 838h2v1h-2zM1285 837h4v1h-4zM1289 836h3v1h-3zM1292 835h2v1h-2zM1294 834h1v1h-1zM1295 833h2v1h-2zM1297 832h2v1h-2zM1299 831h2v1h-2zM1301 830h4v1h-4zM1305 829h3v1h-3zM1308 828h1v1h-1zM1309 827h1v1h-1zM1310 826h1v1h-1zM1311 825h2v1h-2zM1313 824h1v1h-1zM1314 823h1v1h-1zM1315 822h2v1h-2zM1317 821h2v1h-2zM1319 820h3v1h-3zM1322 819h5v1h-5zM1327 818h6v1h-6zM1333 817h4v1h-4zM1337 816h3v1h-3zM1340 815h2v1h-2zM1342 814h2v1h-2zM1344 813h2v1h-2zM1346 812h2v1h-2zM1348 811h2v1h-2zM1350 810h2v1h-2zM1352 809h2v1h-2zM1354 808h3v1h-3zM1357 807h4v1h-4zM1361 806h6v1h-6zM1367 807h8v1h-8zM1375 808h5v1h-5z" fill="#1e90ff" shape-rendering="crispEdges"/>
<line x1="1276.2" y1="845.7" x2="1375.03" y2="806.93" stroke="#ff0000" stroke-width="2.9" shape-rendering="crispEdges"/>
<polygon points="1384.8,803.1 1375.99,812.14 1372.2,802.46" fill="#ff0000" shape-rendering="crispEdges"/>
<text x="1649.6" y="764.6" font-size="10" fill="#000" stroke="#000" stroke-width="0.1" textLength="15" lengthAdjust="spacingAndGlyphs">100</text>
<text x="1649" y="793.6" font-size="10" fill="#000" stroke="#000" stroke-width="0.1" textLength="10" lengthAdjust="spacingAndGlyphs">80</text>
<text x="1649" y="844.6" font-size="10" fill="#000" stroke="#000" stroke-width="0.1" textLength="10" lengthAdjust="spacingAndGlyphs">50</text>
<text x="1649" y="905.6" font-size="10" fill="#000" stroke="#000" stroke-width="0.1" textLength="10" lengthAdjust="spacingAndGlyphs">15</text>
<text x="1649.6" y="924.6" font-size="10" fill="#000" stroke="#000" stroke-width="0.1" textLength="5" lengthAdjust="spacingAndGlyphs">0</text>
<text x="-7.5" y="767.2" font-size="10" fill="#000" stroke="#000" stroke-width="0.1" textLength="66" lengthAdjust="spacingAndGlyphs">RSI(14) 68.8701</text>
<g shape-rendering="crispEdges">
<rect x="51" y="929" width="1" height="3" fill="#000"/>
<rect x="115" y="929" width="1" height="3" fill="#000"/>
<rect x="179" y="929" width="1" height="3" fill="#000"/>
<rect x="243" y="929" width="1" height="3" fill="#000"/>
<rect x="307" y="929" width="1" height="3" fill="#000"/>
<rect x="371" y="929" width="1" height="3" fill="#000"/>
<rect x="435" y="929" width="1" height="3" fill="#000"/>
<rect x="499" y="929" width="1" height="3" fill="#000"/>
<rect x="563" y="929" width="1" height="3" fill="#000"/>
<rect x="627" y="929" width="1" height="3" fill="#000"/>
<rect x="691" y="929" width="1" height="3" fill="#000"/>
<rect x="755" y="929" width="1" height="3" fill="#000"/>
<rect x="819" y="929" width="1" height="3" fill="#000"/>
<rect x="883" y="929" width="1" height="3" fill="#000"/>
<rect x="947" y="929" width="1" height="3" fill="#000"/>
<rect x="1011" y="929" width="1" height="3" fill="#000"/>
<rect x="1075" y="929" width="1" height="3" fill="#000"/>
<rect x="1139" y="929" width="1" height="3" fill="#000"/>
<rect x="1203" y="929" width="1" height="3" fill="#000"/>
<rect x="1267" y="929" width="1" height="3" fill="#000"/>
<rect x="1331" y="929" width="1" height="3" fill="#000"/>
</g>
<text x="-14" y="941" font-size="10" fill="#000" stroke="#000" stroke-width="0.1" textLength="46.5" lengthAdjust="spacingAndGlyphs">3 Sep 2021</text>
<text x="50" y="941" font-size="10" fill="#000" stroke="#000" stroke-width="0.1" textLength="49.5" lengthAdjust="spacingAndGlyphs">7 Sep 04:00</text>
<text x="114" y="941" font-size="10" fill="#000" stroke="#000" stroke-width="0.1" textLength="49.5" lengthAdjust="spacingAndGlyphs">8 Sep 12:00</text>
<text x="178" y="941" font-size="10" fill="#000" stroke="#000" stroke-width="0.1" textLength="49.5" lengthAdjust="spacingAndGlyphs">9 Sep 20:00</text>
<text x="242" y="941" font-size="10" fill="#000" stroke="#000" stroke-width="0.1" textLength="54.5" lengthAdjust="spacingAndGlyphs">13 Sep 04:00</text>
<text x="306" y="941" font-size="10" fill="#000" stroke="#000" stroke-width="0.1" textLength="54.5" lengthAdjust="spacingAndGlyphs">14 Sep 12:00</text>
<text x="370" y="941" font-size="10" fill="#000" stroke="#000" stroke-width="0.1" textLength="54.5" lengthAdjust="spacingAndGlyphs">15 Sep 20:00</text>
<text x="434" y="941" font-size="10" fill="#000" stroke="#000" stroke-width="0.1" textLength="54.5" lengthAdjust="spacingAndGlyphs">17 Sep 04:00</text>
<text x="498" y="941" font-size="10" fill="#000" stroke="#000" stroke-width="0.1" textLength="54.5" lengthAdjust="spacingAndGlyphs">20 Sep 12:00</text>
<text x="562" y="941" font-size="10" fill="#000" stroke="#000" stroke-width="0.1" textLength="54.5" lengthAdjust="spacingAndGlyphs">21 Sep 20:00</text>
<text x="626" y="941" font-size="10" fill="#000" stroke="#000" stroke-width="0.1" textLength="54.5" lengthAdjust="spacingAndGlyphs">23 Sep 04:00</text>
<text x="690" y="941" font-size="10" fill="#000" stroke="#000" stroke-width="0.1" textLength="54.5" lengthAdjust="spacingAndGlyphs">24 Sep 12:00</text>
<text x="754" y="941" font-size="10" fill="#000" stroke="#000" stroke-width="0.1" textLength="54.5" lengthAdjust="spacingAndGlyphs">27 Sep 20:00</text>
<text x="818" y="941" font-size="10" fill="#000" stroke="#000" stroke-width="0.1" textLength="54.5" lengthAdjust="spacingAndGlyphs">29 Sep 04:00</text>
<text x="882" y="941" font-size="10" fill="#000" stroke="#000" stroke-width="0.1" textLength="54.5" lengthAdjust="spacingAndGlyphs">30 Sep 12:00</text>
<text x="946" y="941" font-size="10" fill="#000" stroke="#000" stroke-width="0.1" textLength="49.5" lengthAdjust="spacingAndGlyphs">3 Oct 23:00</text>
<text x="1010" y="941" font-size="10" fill="#000" stroke="#000" stroke-width="0.1" textLength="49.5" lengthAdjust="spacingAndGlyphs">5 Oct 04:00</text>
<text x="1074" y="941" font-size="10" fill="#000" stroke="#000" stroke-width="0.1" textLength="49.5" lengthAdjust="spacingAndGlyphs">6 Oct 12:00</text>
<text x="1138" y="941" font-size="10" fill="#000" stroke="#000" stroke-width="0.1" textLength="49.5" lengthAdjust="spacingAndGlyphs">7 Oct 20:00</text>
<text x="1202" y="941" font-size="10" fill="#000" stroke="#000" stroke-width="0.1" textLength="54.5" lengthAdjust="spacingAndGlyphs">11 Oct 04:00</text>
<text x="1266" y="941" font-size="10" fill="#000" stroke="#000" stroke-width="0.1" textLength="54.5" lengthAdjust="spacingAndGlyphs">12 Oct 12:00</text>
<text x="1330" y="941" font-size="10" fill="#000" stroke="#000" stroke-width="0.1" textLength="54.5" lengthAdjust="spacingAndGlyphs">13 Oct 20:00</text>
<rect x="0" y="0" width="1690" height="23" fill="#f0f0f0"/>
<g shape-rendering="crispEdges">
<rect x="0" y="23" width="1690" height="1" fill="#b2b2b2"/>
<rect x="0" y="24" width="1690" height="1" fill="#696969"/>
</g>
<rect x="7" y="0" width="1" height="21" fill="#a0a0a0" shape-rendering="crispEdges"/>
<path d="M17.5 3.5 h8 l4 4 v9 h-12 z" fill="#fdfdfd" stroke="#8c8c8c"/><path d="M25.5 3.5 v4 h4" fill="#e8e8e8" stroke="#8c8c8c"/><path d="M19.5 6.5h4M19.5 9.5h7M19.5 11.5h5" stroke="#9a9a9a"/>
<path d="M25.4 9.4h4v3.8h3.6v4h-3.6v3.6h-4v-3.6h-3.9v-4h3.9z" fill="#18c818" stroke="#0a8a0a" stroke-width="0.9"/><path d="M26.6 10.6h1.6v3.8h3.4v1.6h-3.4v3.4h-1.6v-3.4h-3.6v-1.6h3.6z" fill="#3cf03c" opacity="0.8"/>
<g shape-rendering="crispEdges"><path d="M38 4h1v1h-1zM44 4h1v1h-1zM49 4h2v1h-2zM69 4h1v1h-1zM36 5h1v1h-1zM49 5h1v1h-1zM51 5h2v1h-2zM67 5h1v1h-1zM41 6h1v1h-1zM50 6h1v1h-1zM61 6h1v1h-1zM70 6h1v1h-1zM37 7h1v1h-1zM61 7h1v1h-1zM61 8h1v1h-1zM46 9h1v1h-1zM61 9h1v1h-1zM46 10h1v1h-1zM61 10h1v1h-1zM37 11h1v1h-1zM40 11h1v1h-1zM46 11h1v1h-1zM61 11h1v1h-1zM70 11h1v1h-1zM38 12h1v1h-1zM43 12h1v1h-1zM46 12h1v1h-1zM52 12h2v1h-2zM36 13h1v1h-1zM46 13h1v1h-1zM53 13h1v1h-1zM36 14h2v1h-2zM41 14h1v1h-1zM46 14h1v1h-1zM52 14h1v1h-1zM41 15h1v1h-1zM46 15h1v1h-1zM57 15h1v1h-1z" fill="#000" fill-opacity="0.2"/><path d="M42 5h1v1h-1zM45 5h1v1h-1zM59 5h1v1h-1zM63 5h1v1h-1zM37 6h2v1h-2zM42 6h2v1h-2zM57 6h1v1h-1zM42 7h2v1h-2zM57 7h1v1h-1zM65 7h2v1h-2zM70 7h1v1h-1zM36 8h1v1h-1zM47 8h2v1h-2zM51 8h1v1h-1zM57 8h1v1h-1zM70 8h1v1h-1zM42 9h2v1h-2zM50 9h2v1h-2zM57 9h1v1h-1zM65 9h2v1h-2zM70 9h1v1h-1zM36 10h1v1h-1zM42 10h2v1h-2zM50 10h2v1h-2zM57 10h1v1h-1zM65 10h2v1h-2zM70 10h1v1h-1zM42 11h2v1h-2zM50 11h2v1h-2zM57 11h1v1h-1zM40 12h2v1h-2zM50 12h2v1h-2zM57 12h1v1h-1zM65 12h2v1h-2zM50 13h1v1h-1zM57 13h1v1h-1zM60 13h1v1h-1zM71 13h1v1h-1zM57 14h1v1h-1zM65 14h2v1h-2zM39 15h1v1h-1zM42 15h1v1h-1zM50 15h1v1h-1zM65 15h2v1h-2z" fill="#000" fill-opacity="0.4"/><path d="M39 4h1v1h-1zM45 4h2v1h-2zM63 4h1v1h-1zM68 4h1v1h-1zM44 5h1v1h-1zM64 5h1v1h-1zM40 6h1v1h-1zM51 6h1v1h-1zM56 6h1v1h-1zM38 7h1v1h-1zM56 7h1v1h-1zM62 7h1v1h-1zM69 7h1v1h-1zM42 8h1v1h-1zM56 8h1v1h-1zM56 9h1v1h-1zM62 9h1v1h-1zM69 9h1v1h-1zM56 10h1v1h-1zM62 10h1v1h-1zM69 10h1v1h-1zM56 11h1v1h-1zM42 12h1v1h-1zM56 12h1v1h-1zM56 13h1v1h-1zM50 14h1v1h-1zM56 14h1v1h-1zM38 15h1v1h-1zM45 15h1v1h-1zM54 15h1v1h-1z" fill="#000" fill-opacity="0.6"/><path d="M37 5h2v1h-2zM40 5h2v1h-2zM43 5h1v1h-1zM50 5h1v1h-1zM53 5h6v1h-6zM68 5h1v1h-1zM62 6h2v1h-2zM65 6h2v1h-2zM68 6h2v1h-2zM40 7h1v1h-1zM37 8h3v1h-3zM41 8h1v1h-1zM44 8h3v1h-3zM49 8h2v1h-2zM63 8h7v1h-7zM39 9h1v1h-1zM45 9h1v1h-1zM37 10h2v1h-2zM40 10h2v1h-2zM45 10h1v1h-1zM39 11h1v1h-1zM45 11h1v1h-1zM62 11h8v1h-8zM37 12h1v1h-1zM39 12h1v1h-1zM45 12h1v1h-1zM37 13h1v1h-1zM39 13h1v1h-1zM41 13h2v1h-2zM45 13h1v1h-1zM51 13h2v1h-2zM61 13h4v1h-4zM67 13h4v1h-4zM39 14h1v1h-1zM42 14h1v1h-1zM45 14h1v1h-1zM51 14h1v1h-1zM56 15h1v1h-1z" fill="#000" fill-opacity="0.8"/><path d="M39 5h1v1h-1zM64 6h1v1h-1zM67 6h1v1h-1zM40 8h1v1h-1zM43 8h1v1h-1zM62 8h1v1h-1zM39 10h1v1h-1zM65 13h2v1h-2zM55 15h1v1h-1z" fill="#000" fill-opacity="1.0"/></g>
<path d="M89.3 4.1 L99.3 10.5 L100.1 13 L92.4 18.9 L83.9 13 L86.6 11.2 Z" fill="#c98e12" stroke="#9a5c08" stroke-width="1.1" stroke-linejoin="round"/><path d="M89.5 5 L98.4 10.7 L92.9 16.4 L86.6 11.9 Z" fill="url(#gBook)"/><path d="M84.6 13 L86.6 11.9 L92.9 16.4 L92.4 18.2 Z" fill="#f3d467"/><path d="M93.3 16.6 L98.8 11 L99.6 12.9 L92.9 18.2Z" fill="#cdb170"/><path d="M93.4 17.3 L99.1 12" stroke="#9a7420" stroke-width="0.5"/>
<path d="M114.2 3.4 L122.4 3.1 L125 5.8 V12.6 H117.2 L114.2 11.6 Z" fill="#1e9bff"/><path d="M114.3 3.6 L117.3 6.2 L125 5.9 M117.3 6.2 V12.5" stroke="#e8f5ff" stroke-width="0.7" fill="none"/><path d="M119 8.2 L123.6 7.4" stroke="#d6efff" stroke-width="1.1"/><path d="M114.8 18.6 C112.4 18.6 111.6 16.7 112.6 15.3 C113 14.2 114.5 13.7 115.6 14.1 C116.2 12.1 118.6 10.9 120.8 11.7 C122 12.1 122.8 13.1 123.2 13.9 C124.8 13.1 127.2 13.9 127.6 15.9 C128 17.6 126.8 18.6 125.4 18.6 Z" fill="url(#gCloud)" stroke="#4d6cab" stroke-width="0.9"/>
<path d="M148.2 10.8 L148.2 18.9 A8.1 8.1 0 0 0 153.6 4.8 Z" fill="#4cae4c" opacity="0.55"/><g fill="none" stroke="#3c64d0" stroke-width="1.3"><circle cx="148.1" cy="10.8" r="7.6" opacity="0.42"/><circle cx="148.1" cy="10.8" r="5.2" opacity="0.5"/><circle cx="148.1" cy="10.8" r="2.9" opacity="0.55"/></g><path d="M148.2 18.9 A8.1 8.1 0 0 0 155.9 13" fill="none" stroke="#3f9f3f" stroke-width="1.2" opacity="0.8"/><path d="M148.5 11 V18.8" stroke="#1eaa1e" stroke-width="1.4"/><circle cx="148" cy="10.6" r="1.8" fill="#2a52cc"/>
<path d="M167.4 10.2 L182.8 9.6 L175.6 18.9 Z" fill="url(#gFunnel)" stroke="#c9960e" stroke-width="0.7" stroke-linejoin="round"/><ellipse cx="175.1" cy="7.8" rx="7.8" ry="2.9" fill="#58b0e6" stroke="#1e7ab0" stroke-width="0.7" transform="rotate(-4 175.1 7.8)"/><ellipse cx="174.8" cy="5.6" rx="3.7" ry="2.7" fill="#6cc0f0" stroke="#2a86bc" stroke-width="0.5"/><circle cx="179.4" cy="14.8" r="4.1" fill="#e62a10" stroke="#b41c06" stroke-width="0.6"/><rect x="178.1" y="13.3" width="2.7" height="2.7" fill="#fff"/>
<g shape-rendering="crispEdges"><path d="M205 4h1v1h-1zM216 4h1v1h-1zM205 5h1v1h-1zM196 6h1v1h-1zM205 6h1v1h-1zM210 6h1v1h-1zM221 6h1v1h-1zM225 6h1v1h-1zM196 7h1v1h-1zM214 7h1v1h-1zM217 7h1v1h-1zM196 8h1v1h-1zM198 8h1v1h-1zM209 8h1v1h-1zM225 8h1v1h-1zM196 9h1v1h-1zM201 9h1v1h-1zM209 9h1v1h-1zM213 9h2v1h-2zM217 9h2v1h-2zM196 10h1v1h-1zM206 10h1v1h-1zM209 10h1v1h-1zM213 10h1v1h-1zM224 10h1v1h-1zM226 10h1v1h-1zM196 11h1v1h-1zM206 11h1v1h-1zM209 11h1v1h-1zM216 11h1v1h-1zM196 12h1v1h-1zM200 12h2v1h-2zM209 12h1v1h-1zM214 12h1v1h-1zM217 12h1v1h-1zM222 12h1v1h-1zM227 12h1v1h-1zM231 12h1v1h-1zM196 13h1v1h-1zM198 13h1v1h-1zM223 13h1v1h-1zM196 14h1v1h-1zM199 14h1v1h-1zM203 14h1v1h-1zM205 14h1v1h-1zM207 14h1v1h-1zM211 14h1v1h-1zM220 14h1v1h-1zM227 14h1v1h-1zM196 15h1v1h-1zM203 15h1v1h-1zM210 15h1v1h-1zM213 15h1v1h-1zM218 15h1v1h-1zM221 15h1v1h-1zM223 15h1v1h-1zM228 15h1v1h-1z" fill="#000" fill-opacity="0.2"/><path d="M192 4h1v1h-1zM206 4h1v1h-1zM215 5h1v1h-1zM209 7h1v1h-1zM213 7h1v1h-1zM218 7h1v1h-1zM205 8h1v1h-1zM212 8h1v1h-1zM205 9h2v1h-2zM211 10h1v1h-1zM218 10h1v1h-1zM220 10h1v1h-1zM199 11h1v1h-1zM202 11h2v1h-2zM215 11h1v1h-1zM224 12h1v1h-1zM202 13h1v1h-1zM204 13h1v1h-1zM214 13h1v1h-1zM228 13h2v1h-2zM231 13h1v1h-1zM212 14h1v1h-1zM232 14h1v1h-1zM208 15h1v1h-1zM219 15h1v1h-1zM224 15h1v1h-1zM229 15h1v1h-1z" fill="#000" fill-opacity="0.4"/><path d="M191 4h1v1h-1zM203 5h1v1h-1zM206 5h1v1h-1zM216 5h1v1h-1zM206 6h1v1h-1zM206 8h1v1h-1zM208 8h1v1h-1zM219 8h1v1h-1zM208 9h1v1h-1zM211 9h1v1h-1zM219 9h2v1h-2zM224 9h1v1h-1zM202 10h1v1h-1zM205 10h1v1h-1zM208 10h1v1h-1zM214 10h1v1h-1zM217 10h1v1h-1zM200 11h1v1h-1zM199 12h1v1h-1zM202 12h1v1h-1zM232 12h1v1h-1zM205 13h1v1h-1zM217 13h1v1h-1zM225 13h2v1h-2zM232 13h1v1h-1zM214 14h1v1h-1zM217 14h1v1h-1zM219 14h1v1h-1zM224 14h2v1h-2zM231 14h1v1h-1zM195 15h1v1h-1zM204 15h1v1h-1zM212 15h1v1h-1z" fill="#000" fill-opacity="0.6"/><path d="M215 4h1v1h-1zM191 5h1v1h-1zM199 5h4v1h-4zM224 5h7v1h-7zM189 6h6v1h-6zM211 6h10v1h-10zM224 6h1v1h-1zM188 7h1v1h-1zM195 7h1v1h-1zM204 7h1v1h-1zM207 7h1v1h-1zM224 7h7v1h-7zM188 8h1v1h-1zM195 8h1v1h-1zM199 8h5v1h-5zM213 8h1v1h-1zM218 8h1v1h-1zM224 8h1v1h-1zM189 9h6v1h-6zM200 9h1v1h-1zM212 9h1v1h-1zM225 9h7v1h-7zM188 10h1v1h-1zM195 10h1v1h-1zM200 10h1v1h-1zM189 11h6v1h-6zM205 11h1v1h-1zM208 11h1v1h-1zM214 11h1v1h-1zM217 11h1v1h-1zM224 11h3v1h-3zM228 11h1v1h-1zM230 11h3v1h-3zM188 12h1v1h-1zM195 12h1v1h-1zM203 12h1v1h-1zM205 12h1v1h-1zM208 12h1v1h-1zM215 12h2v1h-2zM223 12h1v1h-1zM226 12h1v1h-1zM229 12h1v1h-1zM188 13h1v1h-1zM195 13h1v1h-1zM201 13h1v1h-1zM203 13h1v1h-1zM208 13h1v1h-1zM215 13h2v1h-2zM189 14h6v1h-6zM204 14h1v1h-1zM208 14h1v1h-1zM213 14h1v1h-1zM218 14h1v1h-1zM228 14h1v1h-1zM188 15h1v1h-1zM206 15h2v1h-2zM211 15h1v1h-1zM220 15h1v1h-1zM227 15h1v1h-1zM230 15h2v1h-2z" fill="#000" fill-opacity="0.8"/><path d="M231 5h1v1h-1zM188 6h1v1h-1zM195 6h1v1h-1zM231 6h1v1h-1zM205 7h2v1h-2zM208 7h1v1h-1zM231 7h1v1h-1zM231 8h1v1h-1zM188 9h1v1h-1zM195 9h1v1h-1zM225 10h1v1h-1zM188 11h1v1h-1zM195 11h1v1h-1zM227 11h1v1h-1zM229 11h1v1h-1zM199 13h2v1h-2zM188 14h1v1h-1zM195 14h1v1h-1z" fill="#000" fill-opacity="1.0"/></g>
<rect x="243" y="0" width="1" height="23" fill="#a0a0a0" shape-rendering="crispEdges"/>
<g shape-rendering="crispEdges"><rect x="247" y="1" width="3" height="1" fill="#a6a6a6"/><rect x="247" y="3" width="3" height="1" fill="#a6a6a6"/><rect x="247" y="5" width="3" height="1" fill="#a6a6a6"/><rect x="247" y="7" width="3" height="1" fill="#a6a6a6"/><rect x="247" y="9" width="3" height="1" fill="#a6a6a6"/><rect x="247" y="11" width="3" height="1" fill="#a6a6a6"/><rect x="247" y="13" width="3" height="1" fill="#a6a6a6"/><rect x="247" y="15" width="3" height="1" fill="#a6a6a6"/><rect x="247" y="17" width="3" height="1" fill="#a6a6a6"/><rect x="247" y="19" width="3" height="1" fill="#a6a6a6"/></g>
<g fill="#505050" shape-rendering="crispEdges"><rect x="261" y="5" width="1" height="14"/><rect x="259" y="16" width="13" height="1"/></g>
<path d="M261.5 4.4 L259.6 7 H263.4Z M273.4 16.5 L271 14.6 V18.4Z" fill="#505050"/>
<path d="M267.5 6.5 V14.5 M267.5 7.5 h2.5 M265 13.5 h2.5" stroke="#0a8a0a" stroke-width="1.3" fill="none"/>
<rect x="281" y="0" width="1" height="21" fill="#a0a0a0" shape-rendering="crispEdges"/>
<rect x="283" y="0" width="24" height="22" fill="#ffffff" shape-rendering="crispEdges"/><rect x="283" y="1" width="23" height="20" fill="url(#chk)" shape-rendering="crispEdges"/>
<g fill="#505050" shape-rendering="crispEdges"><rect x="289" y="5" width="1" height="14"/><rect x="287" y="16" width="13" height="1"/></g>
<path d="M289.5 4.4 L287.6 7 H291.4Z M301.4 16.5 L299 14.6 V18.4Z" fill="#505050"/>
<path d="M295.5 3.5 V15" stroke="#0c7a1c" stroke-width="1.2"/><rect x="293.5" y="5.5" width="4" height="7" fill="#2fd04a" stroke="#0c7a1c"/>
<g fill="#505050" shape-rendering="crispEdges"><rect x="317" y="5" width="1" height="14"/><rect x="315" y="16" width="13" height="1"/></g>
<path d="M317.5 4.4 L315.6 7 H319.4Z M329.4 16.5 L327 14.6 V18.4Z" fill="#505050"/>
<path d="M318 13 C321 7 323 6.5 325 8.5 S328 11.5 329 12" stroke="#2a9a3a" stroke-width="1.2" fill="none"/>
<rect x="338" y="0" width="1" height="21" fill="#a0a0a0" shape-rendering="crispEdges"/>
<path d="M357 13 L363 18.5" stroke="#d9b03a" stroke-width="2.6" stroke-linecap="round"/><path d="M357 13 L363 18.5" stroke="#8a6a1a" stroke-width="0.5"/>
<circle cx="353" cy="8.8" r="5.6" fill="#d6e9fb" stroke="#3f86d8" stroke-width="1.3"/>
<path d="M350 8.8 h6" stroke="#2f6fc0" stroke-width="1.6"/>
<path d="M353 5.8 v6" stroke="#2f6fc0" stroke-width="1.6"/>
<path d="M384.8 13 L390.8 18.5" stroke="#d9b03a" stroke-width="2.6" stroke-linecap="round"/><path d="M384.8 13 L390.8 18.5" stroke="#8a6a1a" stroke-width="0.5"/>
<circle cx="380.8" cy="8.8" r="5.6" fill="#d6e9fb" stroke="#3f86d8" stroke-width="1.3"/>
<path d="M377.8 8.8 h6" stroke="#2f6fc0" stroke-width="1.6"/>
<rect x="403" y="3.5" width="7.6" height="7.5" fill="#3fae2f" stroke="#2c8a20" stroke-width="0.6"/><rect x="404.5" y="6.5" width="4.6" height="3" fill="#fff" opacity="0.92"/>
<rect x="411.5" y="3.5" width="7.6" height="7.5" fill="#2f63d0" stroke="#1c46a8" stroke-width="0.6"/><rect x="413.0" y="6.5" width="4.6" height="3" fill="#fff" opacity="0.92"/>
<rect x="403" y="11.5" width="7.6" height="7.5" fill="#2f63d0" stroke="#1c46a8" stroke-width="0.6"/><rect x="404.5" y="14.5" width="4.6" height="3" fill="#fff" opacity="0.92"/>
<rect x="411.5" y="11.5" width="7.6" height="7.5" fill="#3fae2f" stroke="#2c8a20" stroke-width="0.6"/><rect x="413.0" y="14.5" width="4.6" height="3" fill="#fff" opacity="0.92"/>
<rect x="428" y="0" width="1" height="21" fill="#a0a0a0" shape-rendering="crispEdges"/>
<rect x="433" y="0" width="25" height="22" fill="#ffffff" shape-rendering="crispEdges"/><rect x="433" y="1" width="24" height="20" fill="url(#chk)" shape-rendering="crispEdges"/>
<g fill="#505050" shape-rendering="crispEdges"><rect x="441" y="5" width="1" height="14"/><rect x="439" y="16" width="13" height="1"/></g>
<path d="M441.5 4.4 L439.6 7 H443.4Z M453.4 16.5 L451 14.6 V18.4Z" fill="#505050"/>
<polygon points="446.5,7 450.5,10.4 446.5,13.8" fill="#3fcf4f" stroke="#1a8a2a" stroke-width="0.8"/>
<rect x="461" y="0" width="1" height="21" fill="#a0a0a0" shape-rendering="crispEdges"/>
<rect x="463" y="0" width="24" height="22" fill="#ffffff" shape-rendering="crispEdges"/><rect x="463" y="1" width="23" height="20" fill="url(#chk)" shape-rendering="crispEdges"/>
<g fill="#505050" shape-rendering="crispEdges"><rect x="469" y="5" width="1" height="14"/><rect x="467" y="16" width="13" height="1"/></g>
<path d="M469.5 4.4 L467.6 7 H471.4Z M481.4 16.5 L479 14.6 V18.4Z" fill="#505050"/>
<path d="M475.5 5 V15" stroke="#2f6fc0" stroke-width="1.3"/><path d="M481 10.5 H477 M479.2 8.3 L477 10.5 L479.2 12.7" stroke="#e04a1a" stroke-width="1.2" fill="none"/>
<rect x="490" y="0" width="1" height="21" fill="#a0a0a0" shape-rendering="crispEdges"/>
<path d="M500.5 3.5 h6.5 l3.5 3.5 v9 h-10 z" fill="#fbfbfb" stroke="#8c8c8c"/><path d="M507 3.5 v3.5 h3.5" fill="#e8e8e8" stroke="#8c8c8c"/><path d="M504.5 7 c-1.2 0 -1.2 1 -1.2 2 v3" stroke="#444" fill="none" stroke-width="0.9"/>
<path d="M508.3 10.2h3.6v3.4h3.6v3.4h-3.6v3.4h-3.6v-3.4h-3.6v-3.4h3.6z" fill="#1fc41f" stroke="#0b8a0b" stroke-width="0.9"/>
<polygon points="521.7,10 527.3,10 524.5,13.1" fill="#000"/>
<circle cx="546" cy="10.8" r="7" fill="url(#gClock)" stroke="url(#gRing)" stroke-width="2.3"/><path d="M546 6.6 V11 L548.8 12" stroke="#333" stroke-width="1.1" fill="none"/><circle cx="546" cy="14.6" r="0.6" fill="#6aa0e8"/>
<polygon points="560.5,10 566.0999999999999,10 563.3,13.1" fill="#000"/>
<rect x="577.5" y="4.5" width="15" height="13" fill="#fdfdfd" stroke="#2f6fc8" stroke-width="1"/><rect x="577.5" y="4.5" width="15" height="2.2" fill="#4f8fe0"/><path d="M579.5 10.5 l2.5 -1 l2 0.8 l2.5 -1.6 l2 0.6 l2 -1.2" stroke="#b03018" stroke-width="1.1" fill="none"/><path d="M579.5 15.5 l2.5 -1 l2 0.8 l2.5 -2 l2 1.6 l2 -1" stroke="#1f9a2f" stroke-width="1.1" fill="none"/><path d="M578 12 h14" stroke="#9ab8e0" stroke-width="0.6"/>
<polygon points="599.7,10 605.3,10 602.5,13.1" fill="#000"/>
<rect x="611" y="0" width="1" height="23" fill="#a0a0a0" shape-rendering="crispEdges"/>
<g shape-rendering="crispEdges"><rect x="615" y="1" width="3" height="1" fill="#a6a6a6"/><rect x="615" y="3" width="3" height="1" fill="#a6a6a6"/><rect x="615" y="5" width="3" height="1" fill="#a6a6a6"/><rect x="615" y="7" width="3" height="1" fill="#a6a6a6"/><rect x="615" y="9" width="3" height="1" fill="#a6a6a6"/><rect x="615" y="11" width="3" height="1" fill="#a6a6a6"/><rect x="615" y="13" width="3" height="1" fill="#a6a6a6"/><rect x="615" y="15" width="3" height="1" fill="#a6a6a6"/><rect x="615" y="17" width="3" height="1" fill="#a6a6a6"/><rect x="615" y="19" width="3" height="1" fill="#a6a6a6"/></g>
<rect x="621" y="0" width="1" height="21" fill="#a0a0a0" shape-rendering="crispEdges"/>
<rect x="622" y="0" width="24" height="22" fill="#ffffff" shape-rendering="crispEdges"/><rect x="622" y="1" width="23" height="20" fill="url(#chk)" shape-rendering="crispEdges"/>
<path d="M628.8 4 V16.2 L631.6 13.6 L634 18.6 L636.2 17.6 L633.8 12.8 L637.6 12.6 Z" fill="#3c3c3c"/>
<path d="M661.5 4.5 V18.5 M654.5 11.5 H668.5" stroke="#4a4a4a" stroke-width="1" shape-rendering="crispEdges"/>
<rect x="678" y="0" width="1" height="21" fill="#a0a0a0" shape-rendering="crispEdges"/>
<path d="M695.5 5 V18" stroke="#4a4a4a" stroke-width="1" shape-rendering="crispEdges"/>
<path d="M718 11.5 H730.5" stroke="#4a4a4a" stroke-width="1" shape-rendering="crispEdges"/>
<path d="M745.8 18 L758 6" stroke="#4a4a4a" stroke-width="1.1"/>
<path d="M772 16 L783 5 M775 18 L786 7 M772.5 12.5 L784 8 M774 16.5 L785.5 12" stroke="#4a4a4a" stroke-width="0.9" fill="none"/>
<text x="783.3" y="19.6" font-size="6.5" font-weight="bold" fill="#333">E</text>
<g stroke="#4a4a4a" stroke-width="1" stroke-dasharray="1 1" shape-rendering="crispEdges"><path d="M801 4.5H814M801 8.5H814M801 12.5H814M801 15.5H810"/></g>
<text x="810.8" y="19.6" font-size="6.5" font-weight="bold" fill="#333">F</text>
<text x="831.6" y="16" font-size="12.5" fill="#4a4a4a">A</text>
<rect x="858.5" y="5.5" width="11" height="12" fill="none" stroke="#4a4a4a" stroke-dasharray="1 1" shape-rendering="crispEdges"/><text x="860.2" y="16" font-size="11.5" font-weight="bold" fill="#4a4a4a">T</text>
<path d="M885.5 8.5 l3.5 -3.5 l3.5 3.5z M892.5 14.5 l3.5 3.5 l3.5 -3.5z" fill="#3c3c3c"/><path d="M887.5 11.5 l2.2 2.2 l4 -4" stroke="#3c3c3c" stroke-width="1.6" fill="none"/>
<polygon points="905.7,10 911.3,10 908.5,13.1" fill="#000"/>
<rect x="917" y="0" width="1" height="23" fill="#a0a0a0" shape-rendering="crispEdges"/>
<g shape-rendering="crispEdges"><rect x="921" y="1" width="3" height="1" fill="#a6a6a6"/><rect x="921" y="3" width="3" height="1" fill="#a6a6a6"/><rect x="921" y="5" width="3" height="1" fill="#a6a6a6"/><rect x="921" y="7" width="3" height="1" fill="#a6a6a6"/><rect x="921" y="9" width="3" height="1" fill="#a6a6a6"/><rect x="921" y="11" width="3" height="1" fill="#a6a6a6"/><rect x="921" y="13" width="3" height="1" fill="#a6a6a6"/><rect x="921" y="15" width="3" height="1" fill="#a6a6a6"/><rect x="921" y="17" width="3" height="1" fill="#a6a6a6"/><rect x="921" y="19" width="3" height="1" fill="#a6a6a6"/></g>
<rect x="1068" y="0" width="25" height="22" fill="#ffffff" shape-rendering="crispEdges"/><rect x="1068" y="1" width="24" height="20" fill="url(#chk)" shape-rendering="crispEdges"/>
<rect x="1067" y="0" width="1" height="21" fill="#a0a0a0" shape-rendering="crispEdges"/>
<text x="939" y="14.7" font-size="9.4" fill="#3a3a3a" text-anchor="middle">M1</text>
<text x="967" y="14.7" font-size="9.4" fill="#3a3a3a" text-anchor="middle">M5</text>
<text x="995.3" y="14.7" font-size="9.4" fill="#3a3a3a" text-anchor="middle">M15</text>
<text x="1023.6" y="14.7" font-size="9.4" fill="#3a3a3a" text-anchor="middle">M30</text>
<text x="1051.3" y="14.7" font-size="9.4" fill="#3a3a3a" text-anchor="middle">H1</text>
<text x="1078.7" y="14.7" font-size="9.4" fill="#3a3a3a" text-anchor="middle">H4</text>
<text x="1107.7" y="14.7" font-size="9.4" fill="#3a3a3a" text-anchor="middle">D1</text>
<text x="1136.2" y="14.7" font-size="9.4" fill="#3a3a3a" text-anchor="middle">W1</text>
<text x="1163.1" y="14.7" font-size="9.4" fill="#3a3a3a" text-anchor="middle">MN</text>
<rect x="1178" y="0" width="1" height="23" fill="#a0a0a0" shape-rendering="crispEdges"/>
<path d="M1645.4 11.6 L1640.6 16" stroke="#2b62d0" stroke-width="2.2" stroke-linecap="round"/><circle cx="1648.6" cy="8.5" r="3.8" fill="#f4f6ff" stroke="#2b62d0" stroke-width="1.2"/>
<path d="M1664.8 13 a5.8 4.8 0 1 1 5 5 l-2.4 2 l0.3 -2.4 a5.8 4.8 0 0 1 -2.9 -4.6z" fill="#e4e4ea" stroke="#b0b0b8" stroke-width="0.8"/>
<circle cx="1679.3" cy="8.3" r="8.3" fill="url(#gBadge)"/>
<text x="1679.2" y="13" font-size="12.5" fill="#fff" stroke="#fff" stroke-width="0.35" text-anchor="middle" style="font-family:'Liberation Serif',serif">1</text>
</svg>
</body></html>
